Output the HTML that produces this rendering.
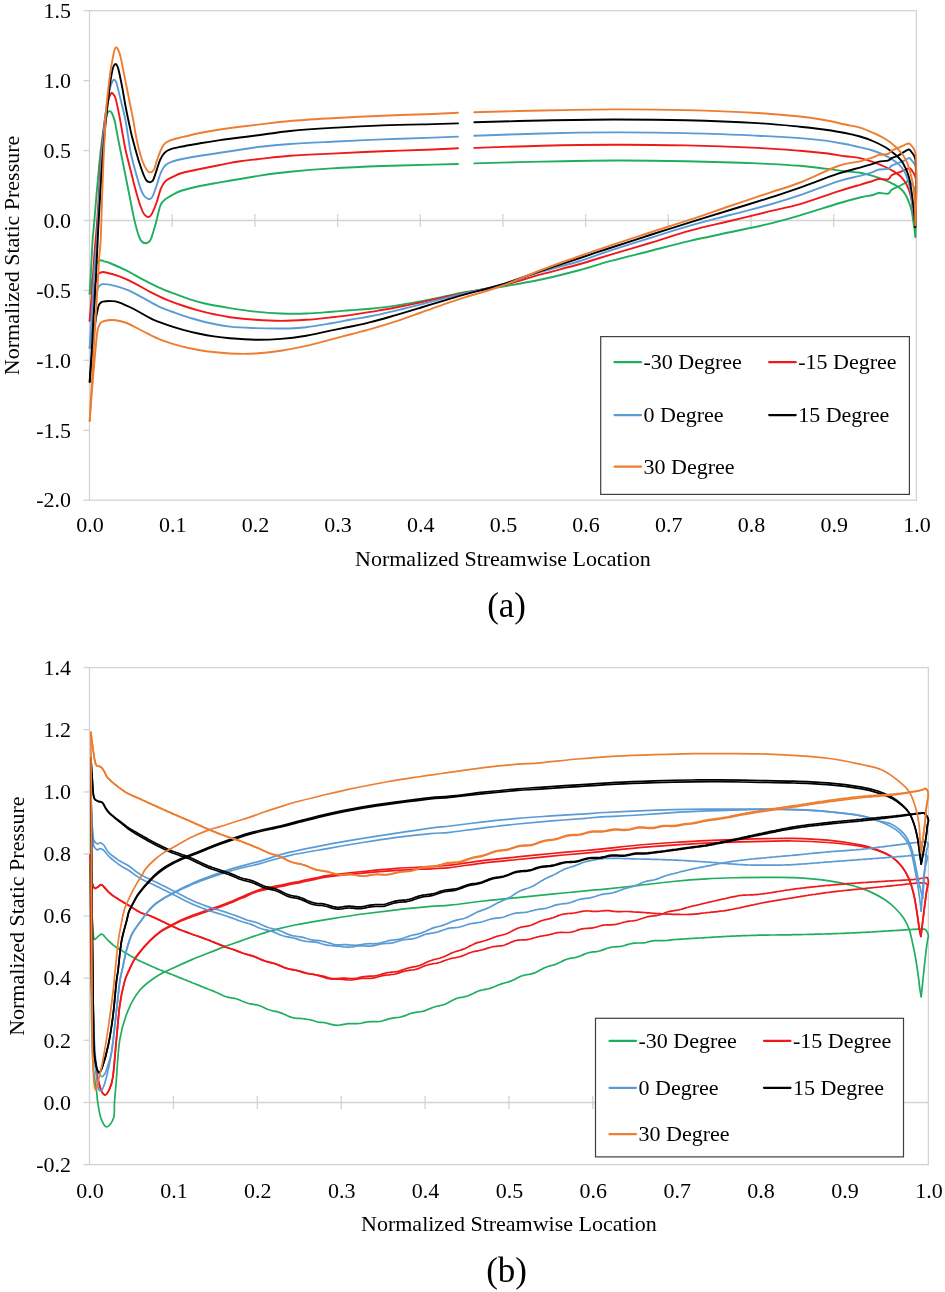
<!DOCTYPE html><html><head><meta charset="utf-8"><style>html,body{margin:0;padding:0;background:#fff;overflow:hidden}svg{display:block;will-change:transform}</style></head><body><svg width="945" height="1292" viewBox="0 0 945 1292" font-family='"Liberation Serif", serif' font-size="22" fill="#000">
<rect width="945" height="1292" fill="#fff"/>
<rect x="89.5" y="10.7" width="826.9" height="489.5" fill="none" stroke="#d3d3d3" stroke-width="1.3"/>
<line x1="83.5" y1="10.7" x2="89.5" y2="10.7" stroke="#d3d3d3" stroke-width="1.3"/>
<text x="71" y="17.9" text-anchor="end">1.5</text>
<line x1="83.5" y1="80.6" x2="89.5" y2="80.6" stroke="#d3d3d3" stroke-width="1.3"/>
<text x="71" y="87.8" text-anchor="end">1.0</text>
<line x1="83.5" y1="150.6" x2="89.5" y2="150.6" stroke="#d3d3d3" stroke-width="1.3"/>
<text x="71" y="157.8" text-anchor="end">0.5</text>
<line x1="83.5" y1="220.5" x2="89.5" y2="220.5" stroke="#d3d3d3" stroke-width="1.3"/>
<text x="71" y="227.7" text-anchor="end">0.0</text>
<line x1="83.5" y1="290.4" x2="89.5" y2="290.4" stroke="#d3d3d3" stroke-width="1.3"/>
<text x="71" y="297.6" text-anchor="end">-0.5</text>
<line x1="83.5" y1="360.3" x2="89.5" y2="360.3" stroke="#d3d3d3" stroke-width="1.3"/>
<text x="71" y="367.5" text-anchor="end">-1.0</text>
<line x1="83.5" y1="430.3" x2="89.5" y2="430.3" stroke="#d3d3d3" stroke-width="1.3"/>
<text x="71" y="437.5" text-anchor="end">-1.5</text>
<line x1="83.5" y1="500.2" x2="89.5" y2="500.2" stroke="#d3d3d3" stroke-width="1.3"/>
<text x="71" y="507.4" text-anchor="end">-2.0</text>
<line x1="89.5" y1="220.5" x2="916.4" y2="220.5" stroke="#d3d3d3" stroke-width="1.3"/>
<line x1="172.2" y1="214" x2="172.2" y2="227" stroke="#d3d3d3" stroke-width="1.3"/>
<line x1="254.9" y1="214" x2="254.9" y2="227" stroke="#d3d3d3" stroke-width="1.3"/>
<line x1="337.6" y1="214" x2="337.6" y2="227" stroke="#d3d3d3" stroke-width="1.3"/>
<line x1="420.3" y1="214" x2="420.3" y2="227" stroke="#d3d3d3" stroke-width="1.3"/>
<line x1="502.9" y1="214" x2="502.9" y2="227" stroke="#d3d3d3" stroke-width="1.3"/>
<line x1="585.6" y1="214" x2="585.6" y2="227" stroke="#d3d3d3" stroke-width="1.3"/>
<line x1="668.3" y1="214" x2="668.3" y2="227" stroke="#d3d3d3" stroke-width="1.3"/>
<line x1="751" y1="214" x2="751" y2="227" stroke="#d3d3d3" stroke-width="1.3"/>
<line x1="833.7" y1="214" x2="833.7" y2="227" stroke="#d3d3d3" stroke-width="1.3"/>
<text x="90" y="531.5" text-anchor="middle">0.0</text>
<text x="172.7" y="531.5" text-anchor="middle">0.1</text>
<text x="255.4" y="531.5" text-anchor="middle">0.2</text>
<text x="338.1" y="531.5" text-anchor="middle">0.3</text>
<text x="420.8" y="531.5" text-anchor="middle">0.4</text>
<text x="503.4" y="531.5" text-anchor="middle">0.5</text>
<text x="586.1" y="531.5" text-anchor="middle">0.6</text>
<text x="668.8" y="531.5" text-anchor="middle">0.7</text>
<text x="751.5" y="531.5" text-anchor="middle">0.8</text>
<text x="834.2" y="531.5" text-anchor="middle">0.9</text>
<text x="916.9" y="531.5" text-anchor="middle">1.0</text>
<text x="502.9" y="566" text-anchor="middle">Normalized Streamwise Location</text>
<text transform="translate(19.2 255.4) rotate(-90)" x="0" y="0" text-anchor="middle">Normalized Static Pressure</text>
<text x="506.6" y="617" text-anchor="middle" font-size="35">(a)</text>
<rect x="89.5" y="667.6" width="838.9" height="497" fill="none" stroke="#d3d3d3" stroke-width="1.3"/>
<line x1="83.5" y1="667.6" x2="89.5" y2="667.6" stroke="#d3d3d3" stroke-width="1.3"/>
<text x="71" y="674.8" text-anchor="end">1.4</text>
<line x1="83.5" y1="729.7" x2="89.5" y2="729.7" stroke="#d3d3d3" stroke-width="1.3"/>
<text x="71" y="736.9" text-anchor="end">1.2</text>
<line x1="83.5" y1="791.9" x2="89.5" y2="791.9" stroke="#d3d3d3" stroke-width="1.3"/>
<text x="71" y="799.1" text-anchor="end">1.0</text>
<line x1="83.5" y1="854" x2="89.5" y2="854" stroke="#d3d3d3" stroke-width="1.3"/>
<text x="71" y="861.2" text-anchor="end">0.8</text>
<line x1="83.5" y1="916.1" x2="89.5" y2="916.1" stroke="#d3d3d3" stroke-width="1.3"/>
<text x="71" y="923.3" text-anchor="end">0.6</text>
<line x1="83.5" y1="978.2" x2="89.5" y2="978.2" stroke="#d3d3d3" stroke-width="1.3"/>
<text x="71" y="985.4" text-anchor="end">0.4</text>
<line x1="83.5" y1="1040.3" x2="89.5" y2="1040.3" stroke="#d3d3d3" stroke-width="1.3"/>
<text x="71" y="1047.5" text-anchor="end">0.2</text>
<line x1="83.5" y1="1102.5" x2="89.5" y2="1102.5" stroke="#d3d3d3" stroke-width="1.3"/>
<text x="71" y="1109.7" text-anchor="end">0.0</text>
<line x1="83.5" y1="1164.6" x2="89.5" y2="1164.6" stroke="#d3d3d3" stroke-width="1.3"/>
<text x="71" y="1171.8" text-anchor="end">-0.2</text>
<line x1="89.5" y1="1102.5" x2="928.4" y2="1102.5" stroke="#d3d3d3" stroke-width="1.3"/>
<line x1="173.4" y1="1096" x2="173.4" y2="1109" stroke="#d3d3d3" stroke-width="1.3"/>
<line x1="257.3" y1="1096" x2="257.3" y2="1109" stroke="#d3d3d3" stroke-width="1.3"/>
<line x1="341.2" y1="1096" x2="341.2" y2="1109" stroke="#d3d3d3" stroke-width="1.3"/>
<line x1="425.1" y1="1096" x2="425.1" y2="1109" stroke="#d3d3d3" stroke-width="1.3"/>
<line x1="508.9" y1="1096" x2="508.9" y2="1109" stroke="#d3d3d3" stroke-width="1.3"/>
<line x1="592.8" y1="1096" x2="592.8" y2="1109" stroke="#d3d3d3" stroke-width="1.3"/>
<line x1="676.7" y1="1096" x2="676.7" y2="1109" stroke="#d3d3d3" stroke-width="1.3"/>
<line x1="760.6" y1="1096" x2="760.6" y2="1109" stroke="#d3d3d3" stroke-width="1.3"/>
<line x1="844.5" y1="1096" x2="844.5" y2="1109" stroke="#d3d3d3" stroke-width="1.3"/>
<text x="90" y="1197.5" text-anchor="middle">0.0</text>
<text x="173.9" y="1197.5" text-anchor="middle">0.1</text>
<text x="257.8" y="1197.5" text-anchor="middle">0.2</text>
<text x="341.7" y="1197.5" text-anchor="middle">0.3</text>
<text x="425.6" y="1197.5" text-anchor="middle">0.4</text>
<text x="509.4" y="1197.5" text-anchor="middle">0.5</text>
<text x="593.3" y="1197.5" text-anchor="middle">0.6</text>
<text x="677.2" y="1197.5" text-anchor="middle">0.7</text>
<text x="761.1" y="1197.5" text-anchor="middle">0.8</text>
<text x="845" y="1197.5" text-anchor="middle">0.9</text>
<text x="928.9" y="1197.5" text-anchor="middle">1.0</text>
<text x="508.9" y="1231" text-anchor="middle">Normalized Streamwise Location</text>
<text transform="translate(23.8 916.1) rotate(-90)" x="0" y="0" text-anchor="middle">Normalized Static Pressure</text>
<text x="506.6" y="1282" text-anchor="middle" font-size="35">(b)</text>
<path d="M89.7 293.7C89.9 289.8 90.5 278.9 91 270C91.5 261.1 92.1 247.7 92.6 240C93.1 232.3 93.4 231.3 94.1 223.8C94.8 216.3 95.6 205.3 96.5 195C97.4 184.7 98.6 171.1 99.5 161.9C100.4 152.7 101.2 146.2 102 140C102.8 133.8 103.7 129.1 104.5 125C105.3 120.9 106 117.7 106.6 115.5C107.2 113.3 107.5 112.7 108 112C108.5 111.3 109 111.1 109.5 111.1C110 111.1 110.5 111.2 111 111.8C111.5 112.4 112.1 113.2 112.7 114.8C113.3 116.4 114.1 118.4 114.8 121.3C115.5 124.2 116.1 128.4 116.8 131.9C117.5 135.4 118.1 138.9 118.8 142.4C119.5 145.9 119.8 147.4 120.9 152.8C122 158.2 123.9 167.7 125.4 175.1C126.9 182.5 128.3 189.9 129.8 197.3C131.3 204.7 132.8 213.2 134.3 219.6C135.8 226 137.4 231.9 138.7 235.6C139.9 239.2 140.6 240.2 141.8 241.5C143 242.8 144.5 243.1 145.7 243.2C146.8 243.3 147.8 242.8 148.7 242C149.6 241.2 150 241.3 151.2 238.3C152.3 235.3 154.1 229.3 155.6 224C157.1 218.7 158.9 209.9 160.1 206.2C161.3 202.4 162 202.7 163 201.5C164 200.3 164.1 200.1 166 198.8C167.9 197.5 171.6 195.2 174.3 193.8C177 192.4 177.7 191.8 182 190.5C186.3 189.2 193.7 187.3 200 186C206.3 184.7 213.3 183.6 220 182.4C226.7 181.2 233.3 180.1 240 179C246.7 177.9 251.7 176.8 260 175.6C268.3 174.4 278.1 173 290 171.8C301.9 170.6 316.2 169.4 331.6 168.4C347 167.4 365.5 166.6 382.4 166C399.3 165.4 420.6 164.9 433.2 164.6C445.8 164.3 453.9 164.1 458 164" fill="none" stroke="#1fae5e" stroke-width="1.9" stroke-linejoin="round" stroke-linecap="round"/>
<path d="M474.3 163.4C485.6 163.1 518.7 162.1 542 161.6C565.3 161.1 589.9 160.6 613.9 160.5C637.9 160.4 661.9 160.7 685.9 161.2C709.9 161.7 738.9 162.6 757.9 163.4C776.9 164.2 788.8 164.9 800 165.8C811.2 166.7 817.9 167.7 825.4 168.6C832.9 169.5 839.2 170.5 845 171.2C850.8 171.9 855.4 171.9 860 172.7C864.6 173.5 868.5 174.6 872.7 175.9C876.9 177.2 881.7 178.8 885.4 180.3C889.1 181.8 892.2 183.3 894.9 184.8C897.5 186.3 899.5 187.6 901.3 189.2C903 190.8 904.1 192.3 905.4 194.5C906.7 196.7 908.1 200 909.1 202.6C910.1 205.2 910.9 207.3 911.6 210.2C912.3 213.1 912.6 216.8 913.1 220.2C913.6 223.5 914.2 227.5 914.6 230.3C915 233.1 915.3 235.7 915.4 236.8" fill="none" stroke="#1fae5e" stroke-width="1.9" stroke-linejoin="round" stroke-linecap="round"/>
<path d="M89.7 293.7C90.1 291.4 91.1 284.3 92 280C92.9 275.7 94.1 271 95 268C95.9 265 96.6 263.3 97.5 262C98.4 260.7 99.5 260.4 100.6 260.3C101.7 260.2 102.3 260.8 104 261.3C105.7 261.8 107.1 261.9 110.9 263.5C114.7 265.1 121.4 268 126.7 270.6C132 273.2 137.3 276.6 142.6 279.4C147.9 282.2 153.2 284.9 158.5 287.3C163.8 289.7 169.2 291.7 174.4 293.7C179.7 295.7 184.7 297.6 190 299.3C195.3 301 199.4 302.3 206.1 303.8C212.8 305.3 221.8 306.8 230 308.1C238.2 309.4 246.9 310.7 255.4 311.6C263.9 312.5 272.3 313.2 280.8 313.5C289.3 313.8 297.7 313.8 306.2 313.5C314.7 313.2 324.3 312.3 331.6 311.8C338.9 311.3 343.5 310.8 350 310.3C356.5 309.8 362.8 309.5 370.4 308.7C378 307.9 387.3 306.9 395.8 305.6C404.3 304.3 412.7 302.7 421.2 301.1C429.7 299.5 439.3 297.5 446.6 296C453.9 294.5 456.1 293.7 465 292.2C473.9 290.7 487.5 289.1 500 287C512.5 284.9 526.7 282.6 540 279.8C553.3 277 568.3 273.1 580 270C591.7 266.9 598.3 264.4 610 261.2C621.7 258 636.7 254.4 650 251C663.3 247.6 676.7 244 690 240.9C703.3 237.8 716.7 235.2 730 232.3C743.3 229.4 758.3 226.4 770 223.6C781.7 220.8 788.6 218.8 800 215.4C811.4 212.1 828.1 206.5 838.1 203.5C848.1 200.5 854.2 198.9 860 197.5C865.8 196.1 869.5 195.8 872.7 195C875.9 194.2 876.5 193.2 879 193C881.5 192.8 885.8 194.2 887.9 193.7C890 193.2 890 191 891.7 189.8C893.4 188.6 896 187.8 898.1 186.7C900.2 185.6 902.7 184.4 904.4 183.5C906.1 182.6 907.1 181 908.3 181C909.5 181 910.3 182.2 911.4 183.5C912.5 184.8 913.9 186.5 914.6 188.6C915.3 190.7 915.6 191.6 915.8 196C916 200.4 916.1 208.2 916 215C915.9 221.8 915.5 233.2 915.4 236.8" fill="none" stroke="#1fae5e" stroke-width="1.9" stroke-linejoin="round" stroke-linecap="round"/>
<path d="M89.7 320.9C90.1 315.8 91.3 300.1 92 290C92.7 279.9 93.4 268.3 94 260C94.6 251.7 95.1 246 95.6 240C96.1 234 96.5 230.5 97 223.8C97.5 217.1 97.9 210.3 98.5 200C99.1 189.7 100 172.7 100.7 161.9C101.5 151.1 102.3 142.3 103 135C103.7 127.7 104.3 122.8 105 118C105.7 113.2 106.3 109.3 107 106C107.7 102.7 108.4 99.9 109 98C109.6 96.1 110 95.4 110.5 94.5C111 93.6 111.2 92.8 111.7 92.8C112.2 92.8 112.8 93.5 113.5 94.5C114.2 95.5 114.8 96.1 115.6 98.5C116.3 100.9 117.2 105.3 118 109.1C118.8 112.9 119.4 115.8 120.4 121.3C121.4 126.8 123.1 137.2 124.1 142.4C125.1 147.7 125.1 148.1 126.2 152.8C127.3 157.5 129.2 164.7 130.7 170.6C132.2 176.5 133.6 182.5 135.2 188.4C136.8 194.3 139 201.9 140.5 206.2C142 210.5 142.8 212.2 144 214C145.2 215.8 146.4 216.5 147.4 216.9C148.4 217.3 149.2 216.8 150 216.2C150.8 215.6 151 215.7 152.1 213.4C153.2 211.2 155 206.9 156.5 202.7C158 198.5 159.5 192 161 188.4C162.5 184.8 163.2 183.3 165.4 181.3C167.6 179.3 171.5 177.6 174.3 176.2C177.1 174.8 177.7 174.2 182 173C186.3 171.8 193.7 170.3 200 169C206.3 167.7 213.3 166.3 220 165C226.7 163.7 233.3 162.3 240 161.3C246.7 160.3 251.7 159.8 260 158.9C268.3 158 278.1 156.7 290 155.8C301.9 154.9 316.2 154.3 331.6 153.6C347 152.8 365.5 152 382.4 151.3C399.3 150.6 420.6 150 433.2 149.5C445.8 149 453.9 148.5 458 148.3" fill="none" stroke="#f01818" stroke-width="1.9" stroke-linejoin="round" stroke-linecap="round"/>
<path d="M474.3 147.9C485.6 147.5 518.7 146.2 542 145.7C565.3 145.2 589.9 144.8 613.9 144.7C637.9 144.6 661.9 144.9 685.9 145.4C709.9 145.9 738.9 147 757.9 147.9C776.9 148.8 788.8 149.9 800 150.8C811.2 151.7 817.9 152.4 825.4 153.3C832.9 154.2 839.2 155.4 845 156.2C850.8 157 855.4 157.1 860 158.1C864.6 159.1 868.5 160.4 872.7 161.9C876.9 163.4 881.7 165.3 885.4 167C889.1 168.7 892.2 170.4 894.9 172.1C897.5 173.8 899.5 175.3 901.3 177.1C903.1 178.9 904.4 180.8 905.7 182.9C907 185 908 187.4 908.9 189.8C909.8 192.2 910.4 194.2 911.1 197.6C911.8 201 912.5 206.4 913.1 210.2C913.7 214 914.2 217.6 914.6 220.2C915 222.8 915.3 224.9 915.4 225.8" fill="none" stroke="#f01818" stroke-width="1.9" stroke-linejoin="round" stroke-linecap="round"/>
<path d="M89.7 320.9C90.1 318.2 91.1 311 92 305C92.9 299 94 290 95 285C96 280 97.1 277.1 98 275C98.9 272.9 99.4 273.1 100.5 272.6C101.6 272.1 101.5 271.6 104.5 272.2C107.5 272.8 113.8 274.3 118.8 276.2C123.8 278.1 129.4 280.6 134.7 283.3C140 286 145.3 289.4 150.6 292.1C155.9 294.8 161.1 297.4 166.4 299.6C171.7 301.8 177 303.7 182.3 305.5C187.6 307.3 192.9 308.9 198.2 310.3C203.5 311.8 208.7 313.1 214 314.2C219.3 315.3 223.1 316.3 230 317.2C236.9 318.1 246.9 319.2 255.4 319.8C263.9 320.4 272.3 320.9 280.8 320.9C289.3 320.9 297.7 320.4 306.2 319.8C314.7 319.2 324.3 318.1 331.6 317.3C338.9 316.5 343.5 316 350 315.1C356.5 314.2 362.8 313.2 370.4 311.9C378 310.6 387.3 309.1 395.8 307.5C404.3 305.9 412.7 304.2 421.2 302.4C429.7 300.6 439.3 298.3 446.6 296.7C453.9 295.1 456.1 294.4 465 292.6C473.9 290.8 487.5 289 500 286C512.5 283 526.7 278.4 540 274.7C553.3 271 568.3 267.3 580 264C591.7 260.7 598.3 258.3 610 254.8C621.7 251.3 636.7 247 650 243C663.3 239 676.7 234.4 690 230.7C703.3 227 716.7 224.2 730 221C743.3 217.8 758.3 214 770 211.2C781.7 208.4 788.6 207.4 800 204.1C811.4 200.8 828.1 194.6 838.1 191.4C848.1 188.2 854.2 186.5 860 184.8C865.8 183.1 869.5 182 872.7 181C875.9 180 876.5 179.3 879 179C881.5 178.7 885.8 180 887.9 179.4C890 178.8 890 176.3 891.7 175.2C893.4 174.1 896 173.5 898.1 172.7C900.2 171.9 902.5 170.9 904.4 170.2C906.3 169.5 908.2 168.2 909.5 168.3C910.8 168.4 911.2 169.7 912.1 170.8C913 172 914 173.6 914.6 175.2C915.2 176.8 915.6 176.2 915.9 180.3C916.1 184.4 916.2 192.4 916.1 200C916 207.6 915.5 221.5 915.4 225.8" fill="none" stroke="#f01818" stroke-width="1.9" stroke-linejoin="round" stroke-linecap="round"/>
<path d="M89.7 348.1C90.1 341.8 91.3 322.2 92 310C92.7 297.8 93.2 286.7 94 275C94.8 263.3 96.2 250.8 97 240C97.8 229.2 97.8 223 98.5 210C99.2 197 100.5 174.4 101.3 161.9C102.1 149.4 102.8 142.8 103.5 135C104.2 127.2 104.8 120.8 105.5 115C106.2 109.2 106.8 104.2 107.5 100C108.2 95.8 108.9 92.5 109.5 90C110.1 87.5 110.6 86.2 111.1 84.7C111.6 83.2 112 81.8 112.5 81C113 80.2 113.6 79.8 114.1 79.8C114.6 79.8 115.2 80.3 115.7 81.3C116.2 82.2 116.5 82.9 117.2 85.5C117.9 88.1 119 93 120 96.9C121 100.8 122 105 122.9 109.1C123.9 113.2 124.7 115.8 125.7 121.3C126.7 126.8 128.2 137.2 129 142.4C129.8 147.7 129.7 148.1 130.7 152.8C131.7 157.5 133.6 164.7 135.2 170.6C136.8 176.5 139 184.2 140.5 188.4C142 192.6 142.7 194 144 195.8C145.3 197.6 147.3 198.7 148.5 199.1C149.7 199.5 150.2 198.9 151 198.3C151.8 197.7 152.1 197.6 153 195.5C153.9 193.4 155.2 189.7 156.5 185.8C157.8 182 159.5 175.8 161 172.4C162.5 169 163.5 167.1 165.4 165.3C167.3 163.5 169.8 162.6 172.6 161.5C175.4 160.4 177.4 159.9 182 159C186.6 158.1 193.7 156.8 200 155.8C206.3 154.8 213.3 153.8 220 152.8C226.7 151.8 233.3 150.8 240 149.8C246.7 148.8 251.7 147.8 260 146.8C268.3 145.8 278.1 144.8 290 144C301.9 143.2 316.2 142.5 331.6 141.7C347 140.9 365.5 140.1 382.4 139.4C399.3 138.7 420.6 138.1 433.2 137.6C445.8 137.1 453.9 136.8 458 136.6" fill="none" stroke="#5b9bd5" stroke-width="1.9" stroke-linejoin="round" stroke-linecap="round"/>
<path d="M474.3 135.7C485.6 135.3 518.7 134.1 542 133.5C565.3 132.9 589.9 132.5 613.9 132.4C637.9 132.3 661.9 132.6 685.9 133.1C709.9 133.6 738.9 134.9 757.9 135.7C776.9 136.5 788.8 137.3 800 138.1C811.2 138.9 817.9 139.6 825.4 140.6C832.9 141.6 839.2 142.9 845 144C850.8 145.1 855.4 146.2 860 147.3C864.6 148.4 868.5 149.1 872.7 150.5C876.9 151.9 881.7 153.8 885.4 155.6C889.1 157.4 892.2 159.4 894.9 161.3C897.5 163.2 899.5 164.9 901.3 167C903.1 169.1 904.4 171.2 905.7 174C907 176.8 908 180.3 908.9 183.5C909.8 186.7 910.2 189.4 910.8 193C911.4 196.6 911.9 201 912.5 205C913.1 209 913.8 213.5 914.3 217C914.8 220.5 915.2 224.5 915.4 226" fill="none" stroke="#5b9bd5" stroke-width="1.9" stroke-linejoin="round" stroke-linecap="round"/>
<path d="M89.7 348.1C90.1 344.2 91.1 333 92 325C92.9 317 94 306.2 95 300C96 293.8 97.1 290.5 98 288C98.9 285.5 99.7 285.6 100.5 285C101.3 284.4 101.2 284.1 102.9 284.1C104.6 284.1 106.9 284 110.9 284.9C114.9 285.8 121.4 287.6 126.7 289.7C132 291.8 137.3 294.8 142.6 297.6C147.9 300.4 153.2 303.8 158.5 306.3C163.8 308.8 169.2 310.7 174.4 312.6C179.7 314.5 184.7 316.2 190 317.8C195.3 319.4 199.4 320.7 206.1 322.2C212.8 323.7 221.8 325.6 230 326.6C238.2 327.6 246.9 327.8 255.4 328.1C263.9 328.4 272.3 328.6 280.8 328.5C289.3 328.4 297.7 328.1 306.2 327.2C314.7 326.3 324.3 324.5 331.6 323.3C338.9 322.1 343.5 321 350 319.8C356.5 318.6 362.8 317.8 370.4 316.3C378 314.8 387.3 312.6 395.8 310.6C404.3 308.6 412.7 306.4 421.2 304.3C429.7 302.2 439.3 299.8 446.6 297.9C453.9 296 456.1 295.2 465 293.1C473.9 291 487.5 289 500 285.5C512.5 282 526.7 276.3 540 272.2C553.3 268.1 568.3 264.6 580 261C591.7 257.4 598.3 254.5 610 250.7C621.7 246.9 636.7 242.2 650 238C663.3 233.8 676.7 229.4 690 225.6C703.3 221.8 716.7 218.5 730 215C743.3 211.5 758.3 207.8 770 204.5C781.7 201.2 788.6 199.1 800 195.2C811.4 191.3 828.1 184.5 838.1 181.3C848.1 178.1 854.2 177.4 860 175.9C865.8 174.4 869.5 173.2 872.7 172.1C875.9 171 876.5 170 879 169.5C881.5 169 885.8 169.5 887.9 168.9C890 168.3 890 166.6 891.7 165.7C893.4 164.8 896 164 898.1 163.2C900.2 162.3 902.6 161.4 904.4 160.6C906.1 159.8 907.5 158.3 908.6 158.1C909.7 157.9 909.8 158.3 910.8 159.4C911.8 160.5 913.8 162.5 914.6 164.4C915.5 166.3 915.6 165.7 915.9 170.8C916.1 175.9 916.2 185.8 916.1 195C916 204.2 915.5 220.8 915.4 226" fill="none" stroke="#5b9bd5" stroke-width="1.9" stroke-linejoin="round" stroke-linecap="round"/>
<path d="M89.7 381.9C90.1 375.8 91.3 357 92 345C92.7 333 93.3 321.7 94 310C94.7 298.3 95.4 285.8 96 275C96.6 264.2 97.1 253.5 97.5 245C97.9 236.5 98 233 98.5 223.8C99 214.6 99.9 200.3 100.5 190C101.1 179.7 101.6 171.1 102.3 161.9C103 152.7 103.8 142.8 104.5 135C105.2 127.2 105.8 121.3 106.5 115C107.2 108.7 107.9 102 108.5 97C109.1 92 109.3 88.8 109.9 84.7C110.5 80.6 111.3 75.5 111.9 72.5C112.5 69.5 112.9 67.9 113.5 66.5C114.1 65.1 114.9 64 115.6 64C116.3 64 116.9 65.1 117.5 66.5C118.1 67.9 118.4 68.8 119.2 72.5C120 76.2 121.5 83.4 122.5 88.8C123.5 94.2 124.3 99.6 125.3 105C126.3 110.4 127.5 116.3 128.6 121.3C129.7 126.3 130.5 130.5 131.6 135C132.7 139.5 133.9 143.7 135.2 148.4C136.5 153.2 138.1 158.9 139.6 163.5C141.1 168.1 142.9 173.2 144.1 176C145.2 178.8 145.6 179.5 146.5 180.5C147.4 181.5 148.6 182 149.4 182.2C150.2 182.4 150.8 181.9 151.5 181.5C152.2 181.1 152.6 181.3 153.4 179.5C154.2 177.7 155.4 173.9 156.5 170.6C157.6 167.3 158.8 162.9 160.1 159.9C161.4 156.9 162.7 154.6 164.5 152.8C166.3 151 167.9 150.2 170.8 149.2C173.7 148.1 177.1 147.5 182 146.5C186.9 145.5 193.7 144.4 200 143.3C206.3 142.2 213.3 141.1 220 140.1C226.7 139.1 233.3 138.3 240 137.5C246.7 136.7 251.7 136.1 260 135C268.3 133.9 278.1 132.2 290 131C301.9 129.8 316.2 128.8 331.6 127.9C347 127 365.5 126 382.4 125.4C399.3 124.8 420.6 124.4 433.2 124.1C445.8 123.8 453.9 123.5 458 123.4" fill="none" stroke="#000000" stroke-width="1.9" stroke-linejoin="round" stroke-linecap="round"/>
<path d="M474.3 122.3C485.6 122 518.7 121 542 120.5C565.3 120 589.9 119.5 613.9 119.5C637.9 119.5 661.9 119.6 685.9 120.2C709.9 120.8 738.9 122 757.9 123.1C776.9 124.2 788.8 125.6 800 126.7C811.2 127.8 817.9 128.8 825.4 129.8C832.9 130.9 839.2 131.9 845 133C850.8 134.1 855.4 135.2 860 136.5C864.6 137.8 868.5 139.2 872.7 141C876.9 142.8 881.7 145.1 885.4 147.3C889.1 149.5 892.2 152.1 894.9 154.3C897.5 156.5 899.5 158.3 901.3 160.6C903.1 162.9 904.4 165.6 905.7 168.3C907 171.1 908 174 908.9 177.1C909.8 180.2 910.2 182.9 910.8 186.7C911.4 190.5 912.1 195.4 912.7 200C913.3 204.6 913.9 209.8 914.3 214.3C914.7 218.8 915.1 224.9 915.3 227" fill="none" stroke="#000000" stroke-width="1.9" stroke-linejoin="round" stroke-linecap="round"/>
<path d="M89.7 381.9C90.1 377.4 91.1 364.5 92 355C92.9 345.5 94 333 95 325C96 317 97.3 310.8 98.2 307.1C99.1 303.4 99.7 303.9 100.5 303C101.3 302.1 101.2 301.9 102.9 301.6C104.6 301.3 108.2 301 110.9 301.1C113.6 301.2 114.8 301 118.8 302.4C122.8 303.8 129.4 306.9 134.7 309.5C140 312.1 145.3 315.8 150.6 318.3C155.9 320.8 161.1 322.7 166.4 324.6C171.7 326.5 177 328.1 182.3 329.6C187.6 331.1 192.9 332.4 198.2 333.5C203.5 334.6 208.7 335.6 214 336.4C219.3 337.2 223.1 337.7 230 338.3C236.9 338.9 246.9 339.7 255.4 339.8C263.9 339.9 272.3 339.6 280.8 338.9C289.3 338.2 297.7 337.1 306.2 335.7C314.7 334.3 324.3 331.9 331.6 330.4C338.9 328.9 343.5 328.2 350 326.8C356.5 325.4 362.8 324.1 370.4 322.1C378 320.2 387.3 317.5 395.8 315.1C404.3 312.7 412.7 310.1 421.2 307.5C429.7 304.9 439.3 302 446.6 299.8C453.9 297.6 456.1 296.9 465 294.4C473.9 291.9 487.5 288.9 500 285C512.5 281.1 526.7 275.8 540 271.3C553.3 266.8 568.3 261.9 580 258C591.7 254.1 598.3 251.8 610 248C621.7 244.2 636.7 239.3 650 235C663.3 230.7 676.7 226.5 690 222.3C703.3 218.1 716.7 214.1 730 210C743.3 205.9 758.3 201.4 770 197.7C781.7 194 788.6 191.6 800 187.6C811.4 183.6 828.1 177 838.1 173.7C848.1 170.4 854.2 169.2 860 167.6C865.8 165.9 869.5 164.8 872.7 163.8C875.9 162.8 876.5 162.1 879 161.6C881.5 161.1 885.8 161.2 887.9 160.6C890 160 890 158.9 891.7 158.1C893.4 157.3 896 156.7 898.1 155.6C900.2 154.5 902.6 152.7 904.4 151.7C906.1 150.7 907.5 149.6 908.6 149.5C909.7 149.4 909.8 149.9 910.8 151.1C911.8 152.3 913.8 154.6 914.6 156.8C915.5 159 915.6 158.9 915.9 164.4C916.2 169.9 916.3 179.6 916.2 190C916.1 200.4 915.4 220.8 915.3 227" fill="none" stroke="#000000" stroke-width="1.9" stroke-linejoin="round" stroke-linecap="round"/>
<path d="M89.7 420.9C90.1 414.1 91.2 394.3 92 380C92.8 365.7 93.7 349.2 94.5 335C95.3 320.8 96.2 307.5 97 295C97.8 282.5 98.4 269.2 99 260C99.6 250.8 100.2 250 100.7 240C101.2 230 101.5 213.3 102 200C102.5 186.7 103.1 170 103.5 160C103.9 150 104.2 146.4 104.5 140C104.8 133.6 105.1 127.1 105.4 121.3C105.8 115.5 106.1 110.4 106.6 105C107.1 99.6 107.7 94.2 108.3 88.8C108.9 83.4 109.5 77.9 110.3 72.5C111.1 67.1 112.4 60 113.1 56.3C113.8 52.5 114 51.5 114.5 50C115 48.5 115.6 47.3 116.2 47.2C116.8 47.1 117.3 48 118 49.5C118.7 51 119.5 52.5 120.4 56.3C121.4 60.1 122.6 67.1 123.7 72.5C124.8 77.9 125.9 83.4 127 88.8C128.1 94.2 129.1 99.6 130.2 105C131.3 110.4 132.6 116.5 133.5 121.3C134.4 126.1 134.7 129.5 135.6 134C136.5 138.5 137.5 143.8 138.7 148.4C139.9 153 141.4 158.1 142.7 161.7C144 165.2 145.5 167.9 146.7 169.7C147.9 171.5 148.9 172.4 150.1 172.4C151.3 172.4 152.8 171.5 153.9 169.7C155 167.9 155.5 164.7 156.5 161.7C157.5 158.7 158.9 154.7 160.1 151.9C161.3 149.1 162.1 146.7 163.6 144.8C165.1 143 165.9 142.1 169 140.8C172.1 139.5 176.8 138.5 182 137.2C187.2 135.9 193.7 134.3 200 133C206.3 131.7 213.3 130.5 220 129.5C226.7 128.5 233.3 127.6 240 126.8C246.7 126 251.7 125.4 260 124.4C268.3 123.4 278.1 122 290 121C301.9 120 316.2 119.2 331.6 118.3C347 117.4 365.5 116.4 382.4 115.7C399.3 115 420.6 114.5 433.2 114C445.8 113.5 453.9 112.9 458 112.7" fill="none" stroke="#ed7d31" stroke-width="1.9" stroke-linejoin="round" stroke-linecap="round"/>
<path d="M474.3 112.3C485.6 112 518.7 111 542 110.5C565.3 110 589.9 109.5 613.9 109.4C637.9 109.3 661.9 109.5 685.9 110.1C709.9 110.7 738.9 111.9 757.9 113C776.9 114.1 788.8 115.3 800 116.5C811.2 117.7 817.9 119 825.4 120.3C832.9 121.6 839.2 123.3 845 124.5C850.8 125.7 855.4 126.2 860 127.6C864.6 129 868.5 130.8 872.7 132.7C876.9 134.6 881.6 136.7 885.4 139C889.2 141.3 893 144.4 895.6 146.7C898.2 149 899.6 150.9 901.3 153C903 155.1 904.4 157 905.7 159.4C907 161.8 908 164.7 908.9 167.6C909.8 170.5 910.7 173.9 911.4 177.1C912.1 180.3 912.8 182.9 913.3 186.7C913.8 190.5 914.3 195.4 914.6 200C914.9 204.6 915.1 209.8 915.2 214C915.3 218.2 915.4 223.4 915.4 225.3" fill="none" stroke="#ed7d31" stroke-width="1.9" stroke-linejoin="round" stroke-linecap="round"/>
<path d="M89.7 420.9C90.1 415.8 91.1 401 92 390C92.9 379 94.1 364.8 95 355C95.9 345.2 96.7 336 97.4 331C98.2 326 98.8 326.5 99.5 325C100.2 323.5 99.9 323 101.3 322.2C102.7 321.4 105.3 320.5 107.7 320.2C110.1 319.9 112.4 319.7 115.6 320.2C118.8 320.7 122.2 321.2 126.7 323C131.2 324.8 137.3 328.4 142.6 331C147.9 333.6 153.2 336.7 158.5 338.9C163.8 341.1 169.2 342.8 174.4 344.4C179.7 346 184.7 347.1 190 348.3C195.3 349.5 199.4 350.4 206.1 351.3C212.8 352.2 221.8 353.1 230 353.5C238.2 353.9 246.9 354 255.4 353.5C263.9 353 272.3 352 280.8 350.7C289.3 349.4 297.7 347.8 306.2 345.9C314.7 344 324.3 341.2 331.6 339.3C338.9 337.4 343.5 336.2 350 334.5C356.5 332.8 362.8 331.4 370.4 329.2C378 327 387.3 324.2 395.8 321.4C404.3 318.6 412.7 315.5 421.2 312.5C429.7 309.5 439.3 305.8 446.6 303.3C453.9 300.8 456.1 300.1 465 297.3C473.9 294.5 487.5 291 500 286.5C512.5 282 526.7 275.6 540 270.5C553.3 265.4 568.3 260.1 580 256C591.7 251.8 598.3 249.5 610 245.6C621.7 241.7 636.7 236.8 650 232.5C663.3 228.2 676.7 224.1 690 219.7C703.3 215.3 716.7 210.5 730 206C743.3 201.5 758.3 196.5 770 192.6C781.7 188.7 788.6 186.9 800 182.5C811.4 178.1 828.1 169.5 838.1 166C848.1 162.5 854.2 162.7 860 161.3C865.8 159.9 869.5 158.6 872.7 157.5C875.9 156.4 876.5 155.5 879 154.9C881.5 154.3 885.8 154.7 887.9 154C890 153.3 890 151.5 891.7 150.5C893.4 149.5 896 148.8 898.1 147.9C900.2 147 902.6 145.8 904.4 145.1C906.1 144.4 907.5 143.6 908.6 143.5C909.7 143.4 909.9 143.9 910.8 144.8C911.7 145.8 913.2 147.6 914 149.2C914.8 150.8 915.2 151.8 915.6 154.3C916 156.8 916.1 156.8 916.2 164.4C916.3 172 916.3 189.8 916.2 200C916.1 210.2 915.5 221.1 915.4 225.3" fill="none" stroke="#ed7d31" stroke-width="1.9" stroke-linejoin="round" stroke-linecap="round"/>
<path d="M90 865C90.1 879.2 90.5 922.5 90.8 950C91.1 977.5 91.3 1010 91.8 1030C92.2 1050 92.7 1060.1 93.5 1070C94.3 1079.9 95.7 1084.1 96.4 1089.5C97.1 1094.9 97 1097.4 97.7 1102.2C98.5 1107 99.4 1114 100.9 1118.1C102.4 1122.2 104.6 1127 106.7 1127C108.8 1127 112.3 1122.2 113.6 1118.1C114.9 1114 114.1 1108 114.5 1102.2C114.9 1096.4 115.2 1093.6 116.1 1083.2C117 1072.8 117.8 1051.8 119.8 1039.7C121.8 1027.6 124.6 1018.9 128 1010.6C131.4 1002.3 135.2 995.7 140 990C144.8 984.3 151.2 979.9 156.9 976.2C162.6 972.5 168.2 970.4 173.9 967.7C179.6 965 185.2 962.5 190.8 960.1C196.4 957.7 202 955.5 207.7 953.3C213.3 951 219 948.7 224.7 946.6C230.3 944.5 236 942.6 241.6 940.6C247.2 938.6 252.8 936.5 258.5 934.7C264.1 932.9 269.4 931.2 275.5 929.6C281.6 928 286.1 926.8 295 925C303.9 923.2 317.6 920.9 328.9 919.1C340.2 917.3 351.4 915.5 362.7 914C374 912.5 385.3 911.1 396.6 909.8C407.9 908.5 421.6 907.2 430.5 906.4C439.4 905.6 441.1 906.1 450 905.2C458.9 904.3 472.6 902.3 483.9 901C495.2 899.7 506.4 898.7 517.7 897.6C529 896.5 540.3 895.3 551.6 894.2C562.9 893.1 576.6 891.6 585.5 890.8C594.4 889.9 596.1 890 605 889.1C613.9 888.2 627.6 886.7 638.9 885.4C650.2 884.1 661.4 882.6 672.7 881.5C684 880.4 695.3 879.5 706.6 878.9C717.9 878.2 730.8 877.9 740.5 877.6C750.2 877.4 756.1 877.4 765 877.4C773.9 877.4 783.4 877.1 793.9 877.6C804.4 878.1 817.8 879.2 827.7 880.6C837.6 882 846.1 883.9 853.1 885.7C860.1 887.5 864.6 889.2 870 891.6C875.4 894 881 897.2 885.3 900C889.5 902.8 892.4 905.4 895.5 908.5C898.6 911.6 901.6 915.2 903.9 918.6C906.1 922 907.6 924.8 909 928.8C910.4 932.8 911.3 937.2 912.4 942.3C913.5 947.4 914.8 953.6 915.8 959.3C916.8 964.9 917.6 971.1 918.3 976.2C919 981.3 919.5 986.6 920 990C920.5 993.4 921 995.5 921.2 996.6" fill="none" stroke="#1fae5e" stroke-width="1.7" stroke-linejoin="round" stroke-linecap="round"/>
<path d="M90 865L90 865.8L90.1 866.8L90.1 867.9L90.1 869.1L90.2 870.3L90.2 871.7L90.3 873.2L90.3 874.7L90.4 876.3L90.4 877.9L90.5 879.6L90.6 881.4L90.6 883.1L90.7 884.9L90.8 886.7L90.8 888.5L90.9 890.3L91 892.1L91 893.9L91.1 895.6L91.2 897.3L91.2 899L91.3 900.6L91.4 902.1L91.4 903.6L91.5 905L91.6 906.8L91.7 908.5L91.8 910.3L91.9 912L92 913.8L92.1 915.5L92.2 917.3L92.3 918.9L92.4 920.6L92.5 922.2L92.6 923.8L92.7 925.3L92.8 926.8L92.9 928.2L93 929.5L93.1 930.8L93.2 932L93.2 933.1L93.3 934.1L93.4 935L93.8 938.6L94 939.5L94.5 939.5L95.8 938.7L97.5 937L98.8 935.8L100.3 934.6L101.7 934L103.4 935.1L105 937L106.1 938.2L107.2 939.5L108.8 941.1L109.8 942L110.8 942.9L112 944L113.3 945.1L114.9 946.2L116.7 947.5L117.8 948.2L119 949L120.3 949.8L121.7 950.6L123.2 951.5L124.7 952.4L126.2 953.3L127.6 954.1L129 954.9L130.3 955.7L131.5 956.4L132.6 957L134.5 958.1L135.7 958.8L136.8 959.4L138 960.1L140 961L141.1 961.5L142.3 962.1L143.6 962.7L144.9 963.3L146.4 964L147.9 964.6L149.4 965.3L150.9 966L152.4 966.7L154 967.3L155.5 968L156.9 968.6L158.3 969.2L159.7 969.8L161.1 970.3L162.6 970.9L164 971.5L165.4 972L166.8 972.5L168.2 973.1L169.7 973.6L171.1 974.2L172.5 974.7L173.9 975.3L175.3 975.9L176.7 976.4L178.1 977L179.5 977.6L180.9 978.1L182.4 978.7L183.8 979.3L185.2 979.8L186.6 980.4L188 981L189.4 981.5L190.8 982.1L192.2 982.7L193.6 983.2L195 983.8L196.5 984.4L197.9 984.9L199.3 985.5L200.7 986.1L202.1 986.7L203.5 987.3L204.9 987.9L206.3 988.4L207.7 989L209.1 989.5L210.4 990L211.7 990.5L212.8 990.9L214 991.4L215.3 992L216.6 992.6L218.2 993.3L219.9 994.1L221.8 995L224.1 996L225.2 996.5L226.4 996.8L227.6 997.1L228.9 997.4L230.2 997.6L231.6 997.9L233.1 998.1L234.5 998.4L236 998.8L237.6 999.2L239.1 999.8L240.7 1000.5L242.3 1001.2L243.9 1001.8L245.5 1002.5L247.2 1003L248.8 1003.5L250.4 1003.8L252 1004.1L253.6 1004.3L255.1 1004.6L256.7 1004.9L258.2 1005.3L259.7 1005.8L261.1 1006.3L262.7 1007L264.2 1007.7L265.8 1008.5L267.4 1009.2L269 1009.8L270.6 1010.3L272.2 1010.7L273.8 1011.1L275.4 1011.4L277 1011.7L278.5 1012.1L280.1 1012.6L281.6 1013.1L283.1 1013.7L284.6 1014.4L286 1015.1L287.4 1015.8L288.8 1016.4L290.2 1016.9L291.4 1017.3L292.7 1017.6L293.9 1017.9L295 1018.1L297.2 1018.3L299.2 1018.4L301.1 1018.5L302.8 1018.7L304.3 1018.8L305.7 1019.1L307.1 1019.3L308.4 1019.5L309.6 1019.7L310.7 1020L311.9 1020.2L314 1020.8L315.4 1021.3L316.7 1021.7L318.2 1022.1L320.4 1022.3L321.6 1022.4L323 1022.5L324.4 1022.7L326 1023L327.6 1023.4L329.3 1023.9L331 1024.3L332.7 1024.7L334.3 1025.1L336 1025.2L337.5 1025.3L339 1025.2L340.7 1025L342.2 1024.7L343.8 1024.4L345.3 1024.1L346.8 1023.9L348.2 1023.7L349.7 1023.7L351.2 1023.6L352.7 1023.7L354.3 1023.7L355.8 1023.7L357.3 1023.7L358.8 1023.5L360.3 1023.3L361.9 1023L363.4 1022.6L365 1022.3L366.5 1022L368.1 1021.8L369.7 1021.7L371.2 1021.6L372.7 1021.6L374.3 1021.7L375.8 1021.7L377.3 1021.7L378.9 1021.5L380.4 1021.3L381.9 1021L383.5 1020.5L385 1020.1L386.6 1019.6L388.1 1019.1L389.6 1018.7L391.2 1018.4L392.7 1018.1L394.3 1017.9L395.8 1017.7L397.4 1017.5L398.9 1017.3L400.5 1017L402 1016.6L403.6 1016.1L405.1 1015.6L406.6 1015L408.2 1014.4L409.7 1013.8L411.3 1013.3L412.8 1012.9L414.3 1012.6L415.9 1012.3L417.4 1012.1L418.9 1012L420.5 1011.7L422 1011.5L423.5 1011.1L425.1 1010.6L426.6 1010L428.2 1009.4L429.7 1008.8L431.3 1008.1L432.8 1007.5L434.3 1007L435.9 1006.5L437.4 1006.2L438.9 1005.8L440.4 1005.5L441.9 1005.2L443.4 1004.7L444.8 1004.2L446.3 1003.6L447.8 1002.9L449.2 1002.1L450.7 1001.3L452.1 1000.5L453.6 999.8L455 999.1L456.6 998.5L458.1 998L459.7 997.7L461.3 997.3L462.8 997.1L464.3 996.8L465.9 996.4L467.4 996L468.8 995.5L470.3 994.8L471.9 994.1L473.4 993.4L474.8 992.6L476.3 992L477.7 991.3L479.2 990.8L480.7 990.4L482.3 990L483.9 989.7L485.3 989.4L486.8 989.2L488.3 988.8L489.8 988.4L491.4 987.9L492.9 987.3L494.5 986.7L496.1 986L497.7 985.3L499.3 984.7L500.8 984.1L502.2 983.6L503.6 983.2L505 982.8L506.4 982.5L507.8 982.1L509.2 981.6L510.7 981.1L512.1 980.5L513.5 979.9L514.9 979.2L516.3 978.4L517.7 977.7L519.2 977L520.8 976.3L522.3 975.8L523.9 975.3L525.4 975L527 974.7L528.5 974.5L530.1 974.2L531.6 973.9L533.2 973.4L534.7 972.9L536.1 972.2L537.5 971.5L538.9 970.7L540.3 969.9L541.7 969.2L543.2 968.4L544.6 967.8L546 967.2L547.4 966.7L548.8 966.3L550.2 965.9L551.6 965.5L553.1 965.1L554.7 964.6L556.2 964L557.7 963.4L559.3 962.6L560.8 961.9L562.3 961.1L563.9 960.4L565.4 959.8L567 959.2L568.5 958.8L570 958.4L571.6 958.1L573.1 957.9L574.6 957.6L576.1 957.3L577.6 956.9L579.1 956.4L580.7 955.8L582.3 955.1L583.9 954.4L585.5 953.8L586.9 953.3L588.4 952.8L589.9 952.4L591.4 952.2L592.9 951.9L594.5 951.8L596 951.6L597.6 951.3L599.1 951L600.6 950.6L602.1 950.1L603.6 949.6L605 949.1L606.6 948.5L608.2 948L609.8 947.6L611.3 947.2L612.9 947L614.4 946.9L615.9 946.8L617.4 946.7L618.9 946.6L620.4 946.5L621.9 946.2L623.4 945.8L625 945.4L626.5 944.9L628.1 944.4L629.6 944L631.2 943.6L632.7 943.3L634.3 943.1L635.8 943.1L637.4 943L638.9 943L640.4 943L642 942.9L643.5 942.8L645.1 942.6L646.6 942.3L648.1 941.9L649.7 941.5L651.2 941.2L652.7 940.9L654.3 940.6L655.8 940.5L657.3 940.6L658.9 940.6L660.4 940.7L661.9 940.7L663.5 940.7L665 940.6L666.5 940.5L668.1 940.3L669.6 940.1L671.2 939.9L672.7 939.7L674.2 939.6L675.8 939.5L677.3 939.4L678.9 939.3L680.4 939.2L682 939.1L683.5 939L685.1 938.9L686.6 938.8L688.2 938.7L689.7 938.6L691.2 938.5L692.8 938.4L694.3 938.3L695.9 938.2L697.4 938.1L698.9 938L700.5 938L702 937.9L703.5 937.8L705.1 937.7L706.6 937.6L708.1 937.5L709.7 937.4L711.2 937.3L712.7 937.2L714.3 937.1L715.8 937L717.3 936.9L718.9 936.9L720.4 936.8L722 936.7L723.5 936.6L725 936.5L726.6 936.4L728.1 936.4L729.6 936.3L731.1 936.2L732.6 936.1L734.1 936.1L735.7 936L737.3 935.9L738.9 935.9L740.5 935.8L741.9 935.7L743.2 935.7L744.5 935.6L745.8 935.6L747.2 935.6L748.5 935.5L749.9 935.5L751.3 935.4L752.9 935.4L754.5 935.3L756.2 935.3L758 935.2L760 935.2L761.2 935.2L762.5 935.2L763.9 935.1L765.3 935.1L766.7 935.1L768.2 935.1L769.7 935L771.3 935L772.8 935L774.4 935L776.1 935L777.7 934.9L779.3 934.9L781 934.9L782.6 934.9L784.3 934.9L785.9 934.8L787.5 934.8L789.2 934.8L790.8 934.8L792.3 934.7L793.9 934.7L795.4 934.7L797 934.6L798.5 934.6L800.1 934.6L801.6 934.6L803.1 934.5L804.7 934.5L806.2 934.5L807.7 934.4L809.3 934.4L810.8 934.4L812.3 934.3L813.9 934.3L815.4 934.2L816.9 934.2L818.5 934.2L820 934.1L821.5 934.1L823.1 934L824.6 934L826.2 933.9L827.7 933.9L829.2 933.8L830.8 933.8L832.3 933.7L833.9 933.7L835.4 933.6L836.9 933.6L838.5 933.5L840 933.5L841.6 933.4L843.1 933.3L844.6 933.3L846.2 933.2L847.7 933.1L849.3 933.1L850.8 933L852.4 932.9L853.9 932.9L855.4 932.8L857 932.7L858.5 932.7L860.1 932.6L861.6 932.5L863.2 932.4L864.7 932.3L866.3 932.3L867.9 932.2L869.5 932.1L871.1 932L872.7 931.9L874.3 931.8L875.9 931.7L877.5 931.6L879.1 931.5L880.7 931.4L882.3 931.3L883.9 931.2L885.4 931.1L886.9 931L888.4 930.9L889.9 930.8L891.4 930.7L892.8 930.7L894.2 930.6L895.5 930.5L897.3 930.4L899.1 930.3L900.9 930.2L902.7 930.1L904.5 929.9L906.2 929.8L907.9 929.7L909.5 929.6L911.1 929.5L912.6 929.4L914.1 929.4L915.4 929.3L916.7 929.2L917.9 929.2L919 929.1L920 929.1L923.3 929L924.6 929.1L925.5 929.8L926.5 930.8L927.3 932.2L927.9 933.8L928.3 935.3L928.3 936.8L927.9 938.3L927.4 940.9L927.3 941.9L927.1 942.9L927 943.9L926.8 944.9L926.7 946.1L926.5 947.5L926.3 949.1L926 951L925.8 953.2L925.5 955.8L925.4 956.9L925.2 958.1L925.1 959.4L925 960.8L924.8 962.3L924.6 963.9L924.4 965.6L924.3 967.2L924.1 969L923.9 970.8L923.7 972.6L923.5 974.4L923.3 976.2L923.1 978L922.9 979.8L922.8 981.6L922.6 983.4L922.4 985.1L922.2 986.7L922.1 988.3L921.9 989.8L921.8 991.2L921.6 992.5L921.5 993.7L921.4 994.8L921.3 995.8L921.2 996.6" fill="none" stroke="#1fae5e" stroke-width="1.7" stroke-linejoin="round" stroke-linecap="round"/>
<path d="M90.4 855C90.5 870.8 90.9 922.5 91.2 950C91.5 977.5 91.8 1000.8 92.5 1020C93.2 1039.2 94.2 1053.8 95.5 1065C96.8 1076.2 98.5 1082 100 1087C101.5 1092 103.2 1094.4 104.7 1094.9C106.2 1095.4 107.6 1093 109 1090C110.4 1087 111.7 1085.2 112.9 1076.8C114.1 1068.4 115.2 1051.7 116.4 1039.7C117.6 1027.7 118.5 1014.5 119.8 1004.8C121.1 995.1 123 987.4 124.5 981.6C126 975.8 127.5 973.6 129.1 970C130.7 966.4 132.2 963.1 134 960C135.8 956.9 137.3 954.9 140 951.6C142.7 948.3 146.7 943.7 150 940.4C153.3 937.1 156.7 934 160 931.6C163.3 929.2 166.7 927.7 170 925.8C173.3 923.9 176.5 922 180 920.4C183.5 918.8 186.2 917.7 190.8 916C195.4 914.3 202 912 207.7 910C213.3 908 219 906.2 224.7 904C230.3 901.8 236 899.3 241.6 897C247.2 894.7 251.3 892.1 258.5 890C265.7 887.9 278.1 885.8 285 884.3C291.9 882.8 295 882.3 300 881.3C305 880.3 310.2 879.1 315 878.1C319.8 877.1 320.9 876.4 328.9 875.3C336.8 874.2 351.4 872.6 362.7 871.5C374 870.4 385.3 869.2 396.6 868.4C407.9 867.6 421.6 867 430.5 866.5C439.4 866 441.1 866.2 450 865.2C458.9 864.2 472.6 861.7 483.9 860.3C495.2 858.9 506.4 858 517.7 856.9C529 855.8 540.3 854.6 551.6 853.5C562.9 852.4 576.6 851.3 585.5 850.5C594.4 849.7 596.1 849.5 605 848.6C613.9 847.7 627.6 846 638.9 845C650.2 844 661.4 843.2 672.7 842.5C684 841.8 695.3 841.1 706.6 840.6C717.9 840.1 730.8 839.6 740.5 839.3C750.2 839 756.1 838.9 765 838.7C773.9 838.6 783.4 838.1 793.9 838.4C804.4 838.6 816.4 839.1 827.7 840.2C839 841.3 853.1 843.4 861.6 845.1C870.1 846.8 873.4 848.2 878.5 850.2C883.6 852.2 888.1 854.1 892.1 856.9C896.1 859.7 899.4 863.4 902.2 867.1C905 870.8 907 874.1 909 878.9C911 883.7 912.7 889.7 914.1 895.9C915.5 902.1 916.6 910.5 917.5 916.2C918.4 921.9 918.9 926.6 919.5 930C920.1 933.4 920.7 935.2 920.9 936.3" fill="none" stroke="#f01818" stroke-width="1.7" stroke-linejoin="round" stroke-linecap="round"/>
<path d="M90.4 855C90.5 870.8 90.9 922.5 91.2 950C91.5 977.5 91.8 1000.8 92.5 1020C93.2 1039.2 94.2 1053.8 95.5 1065C96.8 1076.2 98.5 1082 100 1087C101.5 1092 103.2 1094.4 104.7 1095C106.2 1095.5 107.6 1093.1 109 1090.1C110.4 1087.1 111.7 1085.3 112.9 1077C114.1 1068.6 115.2 1051.9 116.4 1039.9C117.6 1027.9 118.5 1014.7 119.8 1005.1C121.1 995.4 123 987.7 124.5 981.9C126 976.1 127.5 974 129.1 970.4C130.7 966.8 132.2 963.5 134 960.4C135.8 957.4 137.3 955.4 140 952.1C142.7 948.9 146.7 944.3 150 941C153.3 937.8 156.7 934.8 160 932.4C163.3 930 166.7 928.5 170 926.7C173.3 924.9 176.5 923 180 921.4C183.5 919.9 186.2 918.9 190.8 917.2C195.4 915.5 202 913.3 207.7 911.3C213.3 909.3 219 907.5 224.7 905.3C230.3 903.1 236 900.6 241.6 898.3C247.2 896 251.3 893.4 258.5 891.3C265.7 889.2 278.1 887 285 885.6C291.9 884.1 295 883.6 300 882.6C305 881.6 310.2 880.4 315 879.4C319.8 878.4 320.9 877.6 328.9 876.6C336.8 875.6 351.4 874.2 362.7 873.1C374 872.1 385.3 871.1 396.6 870.4C407.9 869.6 421.6 869.2 430.5 868.8C439.4 868.3 441.1 868.5 450 867.6C458.9 866.6 472.6 864.2 483.9 862.8C495.2 861.5 506.4 860.6 517.7 859.5C529 858.4 540.3 857.2 551.6 856.1C562.9 855 576.6 853.9 585.5 853.1C594.4 852.3 596.1 852.1 605 851.2C613.9 850.3 627.6 848.6 638.9 847.6C650.2 846.6 661.4 845.8 672.7 845.1C684 844.4 695.3 843.7 706.6 843.2C717.9 842.7 730.8 842.2 740.5 841.9C750.2 841.6 756.1 841.5 765 841.3C773.9 841.2 783.4 840.8 793.9 841C804.4 841.2 816.4 841.7 827.7 842.5C839 843.4 853.1 845 861.6 846.3C870.1 847.7 873.4 849.1 878.5 850.9C883.6 852.7 888.1 854.5 892.1 857.2C896.1 859.9 899.4 863.5 902.2 867.1C905 870.7 907 874.1 909 878.9C911 883.7 912.7 889.7 914.1 895.9C915.5 902.1 916.6 910.5 917.5 916.2C918.4 921.9 918.9 926.6 919.5 930C920.1 933.4 920.7 935.2 920.9 936.3" fill="none" stroke="#f01818" stroke-width="1.7" stroke-linejoin="round" stroke-linecap="round"/>
<path d="M90.4 855L90.4 855.9L90.5 857.1L90.5 858.5L90.6 860L90.7 861.7L90.7 863.5L90.8 865.3L90.9 867.1L91 869L91 870.7L91.1 872.3L91.2 873.7L91.3 875L91.5 877.3L91.7 879.2L91.9 880.9L92.1 882.3L92.3 883.5L92.6 884.7L93.7 887.3L95 888.5L97.5 887.3L99.2 885.8L100.9 884.7L102.2 885.1L103.5 886.4L104.4 887.4L105.5 888.6L106.6 889.9L107.7 891.1L108.9 892.4L110.2 893.5L111.9 894.9L113.1 895.7L114.4 896.6L115.9 897.6L117.4 898.5L118.9 899.5L120.4 900.4L121.8 901.3L123.1 902.1L124.5 902.9L125.9 903.7L127.3 904.6L128.9 905.5L130.2 906.3L131.5 907.2L132.9 908.1L134.4 909L135.8 909.9L137.2 910.8L138.6 911.6L140 912.3L141.5 913L142.9 913.5L144.4 914L145.8 914.4L147.2 914.8L148.6 915.3L150 915.8L151.4 916.4L152.9 917L154.3 917.6L155.7 918.3L157.1 919L158.6 919.6L160 920.3L161.4 921L162.9 921.7L164.3 922.3L165.7 923L167.1 923.7L168.6 924.4L170 925.1L171.4 925.8L172.8 926.4L174.2 927.1L175.7 927.8L177.1 928.4L178.5 929.1L180 929.7L181.4 930.3L182.8 930.8L184.3 931.3L185.7 931.9L187.2 932.4L188.9 933L190.8 933.7L192.1 934.2L193.5 934.7L195 935.2L196.5 935.7L198.1 936.3L199.7 936.9L201.3 937.4L202.9 938L204.5 938.6L206.1 939.2L207.7 939.8L209.1 940.3L210.5 940.9L211.9 941.5L213.4 942L214.8 942.6L216.2 943.2L217.6 943.8L219 944.4L220.5 944.9L221.9 945.5L223.3 946.1L224.7 946.6L226.2 947.2L227.8 947.7L229.3 948.3L230.9 948.8L232.4 949.3L233.9 949.8L235.5 950.3L237 950.9L238.5 951.4L240.1 952L241.6 952.7L243.1 953.3L244.7 953.8L246.2 954.3L247.7 954.8L249.3 955.2L250.8 955.6L252.3 956L253.9 956.4L255.4 956.9L257 957.5L258.5 958.2L260 958.9L261.6 959.6L263.1 960.3L264.6 961L266.1 961.5L267.6 962L269.1 962.4L270.7 962.8L272.3 963.1L273.9 963.5L275.5 963.9L276.9 964.3L278.4 964.8L279.9 965.4L281.4 966.1L282.9 966.8L284.5 967.5L286 968.1L287.6 968.7L289.1 969.1L290.6 969.5L292.1 969.8L293.6 970L295 970.2L296.7 970.5L298.3 970.8L300 971.1L301.7 971.6L303.3 972L304.9 972.5L306.5 973L308 973.4L309.4 973.7L310.7 974L311.9 974.2L314 974.5L315.4 974.8L316.7 975L318.2 975.2L320.4 975.6L321.6 975.8L322.9 976.1L324.2 976.4L325.7 976.9L327.2 977.3L328.8 977.8L330.4 978.2L332 978.5L333.8 978.6L335.5 978.6L337.2 978.6L339 978.4L340.4 978.3L342 978.2L343.5 978.2L345.1 978.2L346.8 978.3L348.4 978.4L350.1 978.5L351.8 978.5L353.5 978.5L355.1 978.3L356.7 978.1L358.3 977.8L359.8 977.4L361.3 977.1L362.7 976.8L364.5 976.6L366.2 976.4L367.8 976.3L369.4 976.2L370.9 976.2L372.4 976.1L373.8 976L375.3 975.8L376.7 975.6L378.2 975.2L379.7 974.8L381.2 974.4L382.8 973.9L384.3 973.4L385.9 973L387.4 972.7L388.9 972.5L390.5 972.3L392 972.1L393.5 972L395.1 971.8L396.6 971.6L398.1 971.3L399.7 970.9L401.2 970.4L402.7 969.9L404.3 969.3L405.8 968.8L407.3 968.3L408.9 967.8L410.4 967.5L412 967.2L413.5 966.9L415 966.6L416.6 966.3L418.1 965.9L419.6 965.5L421.1 964.9L422.6 964.3L424.1 963.6L425.7 962.8L427.3 962L428.9 961.3L430.5 960.7L431.9 960.2L433.4 959.7L434.9 959.4L436.4 959L437.9 958.7L439.5 958.3L441 957.8L442.6 957.3L444.1 956.6L445.6 956L447.1 955.2L448.6 954.5L450 953.8L451.5 953.1L453 952.5L454.4 952L455.8 951.5L457.2 951.1L458.6 950.7L460 950.3L461.4 949.9L462.7 949.4L464.1 948.9L465.5 948.3L466.9 947.6L468.3 946.9L469.7 946.1L471.1 945.4L472.6 944.7L474 944L475.4 943.4L476.8 942.9L478.2 942.4L479.7 942.1L481.1 941.7L482.5 941.3L483.9 941L485.4 940.5L487 940L488.5 939.5L490.1 938.9L491.6 938.3L493.1 937.6L494.7 937.1L496.2 936.5L497.7 936.1L499.3 935.7L500.8 935.3L502.2 935L503.6 934.6L505 934.2L506.4 933.7L507.8 933.2L509.2 932.5L510.7 931.8L512.1 931.1L513.5 930.3L514.9 929.6L516.3 928.9L517.7 928.3L519.2 927.7L520.8 927.3L522.3 926.9L523.9 926.7L525.4 926.4L527 926.2L528.5 925.9L530.1 925.5L531.6 925L533.2 924.4L534.7 923.7L536.2 923L537.8 922.3L539.3 921.6L540.9 921L542.4 920.5L543.9 920L545.5 919.6L547 919.3L548.5 918.9L550.1 918.6L551.6 918.1L553.1 917.7L554.7 917.1L556.2 916.5L557.7 915.9L559.3 915.3L560.8 914.8L562.3 914.4L563.9 914L565.4 913.8L567 913.6L568.5 913.5L570 913.4L571.6 913.3L573.1 913.2L574.6 913L576.1 912.7L577.6 912.4L579.1 912L580.7 911.6L582.3 911.3L583.9 911.1L585.5 911L586.9 910.9L588.2 911L589.5 911L590.8 911.1L592.2 911.3L593.5 911.4L594.9 911.4L596.3 911.4L597.9 911.3L599.5 911.2L601.2 911L603 910.8L605 910.6L606.3 910.6L607.6 910.6L609 910.7L610.4 910.9L611.9 911.1L613.4 911.3L615 911.5L616.6 911.7L618.3 911.7L619.9 911.7L621.6 911.6L623.3 911.5L624.9 911.5L626.6 911.5L628.2 911.5L629.9 911.6L631.5 911.7L633.1 911.9L634.6 912L636.1 912.1L637.5 912.2L638.9 912.2L640.7 912.3L642.5 912.4L644.2 912.5L645.8 912.6L647.5 912.8L649 912.9L650.6 913L652.1 913.2L653.6 913.3L655.1 913.4L656.6 913.5L658.1 913.6L659.7 913.7L661.2 913.8L662.7 913.9L664.3 914L665.9 914.1L667.5 914.1L669.2 914.2L670.8 914.2L672.5 914.3L674.2 914.3L675.9 914.4L677.5 914.4L679.2 914.4L680.8 914.5L682.4 914.5L683.9 914.5L685.5 914.5L686.9 914.5L688.3 914.4L689.7 914.4L691.6 914.3L693.3 914.2L694.9 914.1L696.5 913.9L698 913.8L699.4 913.6L700.8 913.4L702.2 913.2L703.6 913L705.1 912.9L706.6 912.7L708.1 912.5L709.7 912.4L711.2 912.2L712.7 912.1L714.3 911.9L715.8 911.8L717.3 911.6L718.9 911.4L720.4 911.2L722 911L723.5 910.8L725 910.6L726.5 910.3L727.9 910.1L729.4 909.8L730.8 909.5L732.3 909.3L733.8 909L735.3 908.7L737 908.3L738.7 908L740.5 907.6L741.8 907.3L743.2 907L744.6 906.7L746 906.4L747.5 906.1L748.9 905.8L750.5 905.4L752 905.1L753.6 904.8L755.2 904.4L756.8 904.1L758.4 903.7L760 903.4L761.7 903L763.3 902.7L765 902.4L766.4 902.1L767.8 901.9L769.3 901.6L770.7 901.4L772.2 901.1L773.6 900.9L775.1 900.6L776.6 900.4L778.1 900.1L779.6 899.9L781.2 899.6L782.7 899.4L784.3 899.1L785.8 898.9L787.4 898.6L789 898.4L790.6 898.1L792.3 897.9L793.9 897.6L795.3 897.4L796.8 897.1L798.3 896.9L799.7 896.7L801.2 896.4L802.8 896.2L804.3 896L805.8 895.7L807.4 895.5L808.9 895.2L810.5 895L812.1 894.7L813.6 894.5L815.2 894.3L816.8 894L818.3 893.8L819.9 893.6L821.5 893.3L823 893.1L824.6 892.9L826.2 892.7L827.7 892.5L829.2 892.3L830.8 892.1L832.3 891.9L833.9 891.7L835.4 891.6L836.9 891.4L838.5 891.2L840 891L841.6 890.9L843.1 890.7L844.6 890.5L846.2 890.4L847.7 890.2L849.3 890.1L850.8 889.9L852.4 889.7L853.9 889.6L855.4 889.4L857 889.3L858.5 889.1L860.1 889L861.6 888.8L863.2 888.6L864.7 888.5L866.3 888.3L867.9 888.1L869.6 888L871.2 887.8L872.9 887.7L874.5 887.5L876.1 887.3L877.8 887.2L879.4 887L881 886.8L882.6 886.7L884.2 886.5L885.7 886.4L887.2 886.2L888.7 886.1L890.2 885.9L891.6 885.8L892.9 885.7L894.2 885.5L895.5 885.4L897.5 885.2L899.5 885L901.3 884.8L903.1 884.6L904.8 884.4L906.4 884.2L908 884L909.4 883.8L910.8 883.7L912.2 883.5L913.4 883.4L914.6 883.3L915.8 883.2L918.1 883L919.9 882.9L921.5 882.8L922.8 882.8L924 882.8L925 883L926.9 883.9L927.5 886L927.5 886.8L927.4 887.4L927.2 888.1L926.9 889.4L926.5 891.6L926 895L925.9 896L925.7 897.1L925.6 898.4L925.4 899.8L925.2 901.2L925 902.8L924.8 904.4L924.6 906.1L924.4 907.9L924.2 909.7L923.9 911.5L923.7 913.4L923.5 915.3L923.2 917.1L923 919L922.8 920.8L922.6 922.6L922.4 924.4L922.1 926.1L921.9 927.7L921.8 929.3L921.6 930.7L921.4 932.1L921.3 933.3L921.1 934.5L921 935.5L920.9 936.3" fill="none" stroke="#f01818" stroke-width="1.7" stroke-linejoin="round" stroke-linecap="round"/>
<path d="M90.4 855L90.4 855.9L90.5 857.1L90.5 858.5L90.6 860L90.7 861.7L90.7 863.5L90.8 865.3L90.9 867.1L91 869L91 870.7L91.1 872.3L91.2 873.7L91.3 875L91.5 877.3L91.7 879.2L91.9 880.9L92.1 882.3L92.3 883.5L92.6 884.7L93.7 887.3L95 888.5L97.5 887.3L99.2 885.8L100.9 884.7L102.2 885.1L103.5 886.4L104.4 887.4L105.5 888.6L106.6 889.9L107.7 891.1L108.9 892.4L110.2 893.5L111.9 894.9L113.1 895.7L114.4 896.6L115.9 897.6L117.4 898.5L118.9 899.5L120.4 900.4L121.8 901.3L123.1 902.1L124.5 902.9L125.9 903.7L127.3 904.6L128.9 905.5L130.2 906.3L131.5 907.2L132.9 908.1L134.4 909L135.8 909.9L137.2 910.8L138.6 911.6L140 912.3L141.5 913L142.9 913.5L144.4 914L145.8 914.4L147.2 914.8L148.6 915.3L150 915.8L151.4 916.4L152.9 917L154.3 917.6L155.7 918.3L157.1 919L158.6 919.6L160 920.3L161.4 921L162.9 921.7L164.3 922.3L165.7 923L167.1 923.7L168.6 924.4L170 925.1L171.4 925.8L172.8 926.4L174.2 927.1L175.7 927.8L177.1 928.4L178.5 929.1L180 929.7L181.4 930.3L182.8 930.8L184.3 931.3L185.7 931.9L187.2 932.4L188.9 933L190.8 933.7L192.1 934.2L193.5 934.7L195 935.2L196.5 935.7L198.1 936.3L199.7 936.9L201.3 937.4L202.9 938L204.5 938.6L206.1 939.2L207.7 939.8L209.1 940.3L210.5 940.9L211.9 941.5L213.4 942L214.8 942.6L216.2 943.2L217.6 943.8L219 944.4L220.5 944.9L221.9 945.5L223.3 946.1L224.7 946.6L226.2 947.2L227.8 947.7L229.3 948.3L230.9 948.8L232.4 949.3L233.9 949.8L235.5 950.4L237 951L238.5 951.6L240.1 952.1L241.6 952.7L243.1 953.2L244.7 953.7L246.2 954.1L247.7 954.5L249.3 954.9L250.8 955.4L252.3 955.9L253.9 956.5L255.4 957.1L257 957.9L258.5 958.6L260 959.3L261.6 959.9L263.1 960.4L264.6 960.9L266.1 961.3L267.6 961.7L269.1 962L270.7 962.4L272.3 962.8L273.9 963.3L275.5 963.9L276.9 964.5L278.4 965.2L279.9 965.9L281.4 966.5L282.9 967.1L284.5 967.7L286 968.1L287.6 968.5L289.1 968.8L290.6 969.1L292.1 969.3L293.6 969.6L295 970L296.7 970.4L298.3 970.9L300 971.5L301.7 972.1L303.3 972.6L304.9 973L306.5 973.4L308 973.7L309.4 973.8L310.7 974L311.9 974.1L314 974.4L315.4 974.8L316.7 975.1L318.2 975.6L320.4 976.2L321.6 976.6L322.9 977L324.2 977.5L325.7 977.9L327.2 978.4L328.8 978.7L330.4 978.9L332 979.1L333.8 979.1L335.5 979.1L337.2 979.1L339 979.1L340.4 979.2L342 979.3L343.5 979.5L345.1 979.7L346.8 979.9L348.4 980L350.1 980L351.8 979.9L353.5 979.7L355.1 979.4L356.7 979.1L358.3 978.8L359.8 978.6L361.3 978.4L362.7 978.3L364.5 978.3L366.2 978.4L367.8 978.4L369.4 978.4L370.9 978.3L372.4 978.2L373.8 977.9L375.3 977.6L376.7 977.2L378.2 976.8L379.7 976.4L381.2 976L382.8 975.6L384.3 975.3L385.9 975.1L387.4 975L388.9 974.8L390.5 974.7L392 974.5L393.5 974.3L395.1 974L396.6 973.6L398.1 973.1L399.7 972.6L401.2 972.1L402.7 971.6L404.3 971.2L405.8 970.8L407.3 970.6L408.9 970.4L410.4 970.2L412 970L413.5 969.8L415 969.5L416.6 969.1L418.1 968.6L419.6 968.1L421.1 967.4L422.6 966.8L424.1 966.1L425.7 965.5L427.3 965L428.9 964.6L430.5 964.2L431.9 964L433.4 963.7L434.9 963.5L436.4 963.3L437.9 962.9L439.5 962.5L441 962L442.6 961.4L444.1 960.8L445.6 960.2L447.1 959.7L448.6 959.2L450 958.8L451.6 958.4L453.2 958L454.8 957.8L456.3 957.5L457.9 957.2L459.4 956.8L460.9 956.4L462.4 955.9L463.9 955.3L465.4 954.6L466.9 954L468.4 953.3L470 952.7L471.5 952.2L473.1 951.8L474.6 951.4L476.2 951.1L477.7 950.8L479.3 950.5L480.8 950.2L482.4 949.8L483.9 949.4L485.4 948.9L487 948.4L488.5 947.9L490.1 947.5L491.6 947L493.1 946.7L494.7 946.5L496.2 946.3L497.7 946.1L499.3 946L500.8 945.8L502.3 945.6L503.9 945.2L505.4 944.7L506.9 944.1L508.5 943.5L510 942.8L511.5 942.1L513.1 941.5L514.6 940.9L516.2 940.5L517.7 940.2L519.2 940.1L520.8 940L522.3 939.9L523.9 939.9L525.4 939.8L527 939.6L528.5 939.3L530.1 939L531.6 938.6L533.2 938.1L534.7 937.7L536.2 937.2L537.8 936.9L539.3 936.5L540.9 936.2L542.4 936L543.9 935.7L545.5 935.5L547 935.2L548.5 934.9L550.1 934.5L551.6 934.1L553.1 933.7L554.7 933.3L556.2 932.9L557.7 932.7L559.3 932.5L560.8 932.4L562.3 932.4L563.9 932.5L565.4 932.5L567 932.5L568.5 932.5L570 932.3L571.6 932L573.1 931.6L574.6 931.2L576.1 930.7L577.6 930.1L579.1 929.6L580.7 929.2L582.3 928.9L583.9 928.7L585.5 928.5L586.9 928.4L588.4 928.4L589.9 928.2L591.4 928.1L592.9 927.8L594.5 927.5L596 927.1L597.6 926.7L599.1 926.2L600.6 925.8L602.1 925.4L603.6 925.2L605 925L606.6 924.9L608.2 924.8L609.8 924.8L611.3 924.8L612.9 924.7L614.4 924.6L615.9 924.4L617.4 924L618.9 923.7L620.4 923.2L621.9 922.8L623.4 922.3L625 922L626.5 921.6L628.1 921.4L629.6 921.2L631.2 921L632.7 920.9L634.3 920.6L635.8 920.4L637.4 920L638.9 919.5L640.4 919L642 918.5L643.5 918L645.1 917.5L646.6 917L648.1 916.7L649.7 916.4L651.2 916.2L652.7 916L654.3 915.8L655.8 915.6L657.3 915.4L658.9 915L660.4 914.6L661.9 914L663.5 913.5L665 912.9L666.5 912.3L668.1 911.8L669.6 911.4L671.2 911.1L672.7 910.8L674.2 910.6L675.8 910.4L677.3 910.2L678.9 909.9L680.4 909.5L682 909.1L683.5 908.6L685.1 908.1L686.6 907.6L688.2 907.2L689.7 906.7L691.2 906.4L692.8 906L694.3 905.7L695.9 905.4L697.4 905L698.9 904.7L700.5 904.3L702 903.9L703.5 903.5L705.1 903.2L706.6 902.8L708.1 902.4L709.7 902.1L711.2 901.7L712.7 901.3L714.3 901L715.8 900.6L717.3 900.3L718.9 899.9L720.4 899.6L722 899.2L723.5 898.9L725 898.6L726.6 898.2L728.1 897.9L729.6 897.5L731.1 897.2L732.6 896.9L734.1 896.6L735.7 896.3L737.3 896L738.9 895.7L740.5 895.5L741.9 895.3L743.2 895.2L744.5 895.1L745.8 895.1L747.2 895L748.5 895L749.9 894.9L751.3 894.9L752.9 894.8L754.5 894.7L756.2 894.6L758 894.4L760 894.2L761.2 894L762.5 893.9L763.9 893.7L765.3 893.5L766.7 893.3L768.2 893L769.7 892.8L771.3 892.6L772.8 892.3L774.4 892.1L776.1 891.8L777.7 891.5L779.3 891.3L781 891L782.6 890.8L784.3 890.5L785.9 890.2L787.5 890L789.2 889.8L790.8 889.5L792.3 889.3L793.9 889.1L795.4 888.9L797 888.7L798.5 888.5L800.1 888.3L801.6 888.1L803.1 888L804.7 887.8L806.2 887.6L807.7 887.4L809.3 887.3L810.8 887.1L812.3 886.9L813.9 886.8L815.4 886.6L816.9 886.5L818.5 886.3L820 886.1L821.5 886L823.1 885.8L824.6 885.7L826.2 885.5L827.7 885.4L829.2 885.3L830.8 885.1L832.3 885L833.9 884.8L835.4 884.7L836.9 884.6L838.5 884.4L840 884.3L841.6 884.2L843.1 884.1L844.6 883.9L846.2 883.8L847.7 883.7L849.3 883.6L850.8 883.5L852.4 883.4L853.9 883.3L855.4 883.1L857 883L858.5 882.9L860.1 882.8L861.6 882.7L863.2 882.6L864.7 882.5L866.3 882.4L867.9 882.3L869.6 882.2L871.2 882.1L872.9 882L874.5 881.9L876.1 881.8L877.8 881.7L879.4 881.6L881 881.5L882.6 881.4L884.2 881.3L885.7 881.2L887.2 881.1L888.7 881L890.2 880.9L891.6 880.8L892.9 880.8L894.2 880.7L895.5 880.6L897.5 880.5L899.5 880.4L901.3 880.3L903.1 880.2L904.8 880.1L906.4 880L908 879.9L909.4 879.8L910.8 879.7L912.2 879.6L913.4 879.5L914.6 879.4L915.8 879.3L918.1 879L919.9 878.7L921.5 878.3L922.8 878L924 877.7L925 877.5L927.4 877.7L927.9 879L928.3 881L928.3 883.3L928.2 884.2L928 884.9L927.8 885.6L927.4 886.8L927 889L926.4 892.6L926.3 893.6L926.1 894.7L926 895.9L925.8 897.2L925.6 898.6L925.4 900.1L925.2 901.7L925 903.4L924.8 905.1L924.6 906.8L924.3 908.6L924.1 910.4L923.9 912.3L923.6 914.1L923.4 916L923.2 917.8L923 919.6L922.7 921.4L922.5 923.1L922.3 924.8L922.1 926.5L921.9 928L921.7 929.5L921.6 930.9L921.4 932.2L921.3 933.4L921.1 934.5L921 935.5L920.9 936.3" fill="none" stroke="#f01818" stroke-width="1.7" stroke-linejoin="round" stroke-linecap="round"/>
<path d="M91 800C91.1 816.7 91.5 866.7 91.8 900C92.1 933.3 92.5 973.3 93 1000C93.5 1026.7 94.2 1045.8 95 1060C95.8 1074.2 96.7 1079.9 97.5 1085C98.3 1090.1 99.2 1090.3 100.1 1090.8C101 1091.3 101.8 1090.6 103 1088C104.2 1085.4 105.5 1081.1 107 1075C108.5 1068.9 110.3 1060.1 111.7 1051.3C113.1 1042.5 113.9 1033.9 115.2 1022.3C116.5 1010.7 118.6 990.3 119.8 981.6C121 972.9 121.1 975.1 122.2 970C123.3 964.9 124.7 957 126.3 951C127.9 945 129.4 939.2 132 934C134.6 928.8 139.3 923.3 141.6 920C143.9 916.7 143.7 916.6 145.8 914C147.9 911.4 151.5 907.1 154.3 904.6C157.1 902.1 159.9 900.5 162.7 898.7C165.5 896.9 168.3 895.6 171.2 894C174.1 892.4 176.9 890.8 180 889.2C183.1 887.6 186.7 886 190 884.5C193.3 883 193.3 882.6 200 880.1C206.7 877.6 220 872.6 230 869.4C240 866.2 250 864 260 861.1C270 858.2 278.5 855 290 852.2C301.5 849.4 316.8 846.5 328.9 844.2C341 841.9 351.4 840.1 362.7 838.3C374 836.5 385.3 834.9 396.6 833.2C407.9 831.5 421.6 829.3 430.5 828.1C439.4 826.9 441.1 827 450 826C458.9 825 472.6 823.1 483.9 821.8C495.2 820.5 506.4 819.4 517.7 818.4C529 817.4 540.3 816.7 551.6 815.9C562.9 815.1 576.6 814.4 585.5 813.8C594.4 813.2 596.1 813 605 812.5C613.9 812 627.6 811.3 638.9 810.8C650.2 810.3 661.4 809.9 672.7 809.6C684 809.3 695.3 809.2 706.6 809.1C717.9 809 731.6 809.1 740.5 809.1C749.4 809.1 751.1 809 760 809.1C768.9 809.2 782.6 809.2 793.9 809.6C805.2 810 816.4 810.6 827.7 811.6C839 812.6 853.1 814.3 861.6 815.9C870.1 817.5 872.9 818.8 878.5 821C884.1 823.2 891 826.3 895.5 829.4C900 832.5 903.1 836.2 905.6 839.6C908.1 843 909.1 844.9 910.7 850C912.3 855.1 913.7 863.3 915 870C916.3 876.7 917.5 883.1 918.5 890C919.5 896.9 920.8 907.7 921.2 911.2" fill="none" stroke="#5b9bd5" stroke-width="1.7" stroke-linejoin="round" stroke-linecap="round"/>
<path d="M91 800C91.1 816.7 91.5 866.7 91.8 900C92.1 933.3 92.5 974.7 93 1000C93.5 1025.3 94.2 1040.3 95 1052C95.8 1063.7 96.4 1065.9 97.5 1070C98.6 1074.1 100.3 1075.9 101.6 1076.5C102.8 1077.1 103.9 1075.4 105 1073.5C106.1 1071.6 106.9 1068.7 108 1065C109.1 1061.3 110.5 1058.4 111.7 1051.3C112.9 1044.2 113.9 1033.9 115.2 1022.3C116.5 1010.7 118.6 990.3 119.8 981.6C121 972.9 121.1 975.1 122.2 970C123.3 964.9 124.7 957 126.3 951C127.9 945 129.4 939.2 132 934.1C134.6 929 139.3 923.5 141.6 920.2C143.9 916.9 143.7 916.8 145.8 914.3C147.9 911.7 151.5 907.5 154.3 905C157.1 902.5 159.9 900.9 162.7 899.2C165.5 897.5 168.3 896.2 171.2 894.6C174.1 893.1 176.9 891.5 180 889.9C183.1 888.4 186.7 886.8 190 885.4C193.3 883.9 193.3 883.5 200 881.1C206.7 878.7 220 874.1 230 871.1C240 868.2 250 866.2 260 863.6C270 861 278.5 857.8 290 855.3C301.5 852.8 316.8 850.5 328.9 848.4C341 846.2 351.4 844.3 362.7 842.5C374 840.7 385.3 838.9 396.6 837.4C407.9 835.9 421.6 834.4 430.5 833.6C439.4 832.7 441.1 833.3 450 832.3C458.9 831.3 472.6 829.1 483.9 827.8C495.2 826.4 506.4 825.2 517.7 824C529 822.9 540.3 821.9 551.6 820.9C562.9 820 576.6 819 585.5 818.3C594.4 817.5 596.1 817.2 605 816.7C613.9 816.2 627.6 815.7 638.9 815C650.2 814.3 661.4 813.3 672.7 812.6C684 811.9 695.3 811.4 706.6 810.9C717.9 810.5 731.6 810.3 740.5 810C749.4 809.7 751.1 809.3 760 809.3C768.9 809.2 782.6 809.2 793.9 809.6C805.2 810 816.4 810.6 827.7 811.6C839 812.6 853.1 814.3 861.6 815.9C870.1 817.5 873.8 819.7 878.5 821C883.2 822.3 886.4 822 890 823.5C893.6 825 897.2 827.6 900 830C902.8 832.4 905 834.7 907 838C909 841.3 910.5 845 912 850C913.5 855 914.8 862.2 916 868C917.2 873.8 918.4 880 919.5 885C920.6 890 922.2 896 922.7 898.2" fill="none" stroke="#5b9bd5" stroke-width="1.7" stroke-linejoin="round" stroke-linecap="round"/>
<path d="M91 800L91 800.9L91.1 802.1L91.2 803.5L91.2 805.1L91.3 806.8L91.4 808.6L91.5 810.5L91.6 812.4L91.7 813.8L91.7 815.4L91.8 817L91.9 818.7L92 820.5L92.1 822.2L92.1 823.9L92.2 825.6L92.3 827.2L92.4 828.7L92.5 830L92.7 832.2L92.9 834.2L93.1 836L93.3 837.5L93.5 838.9L93.7 840L95 841.9L96.2 843.1L97.5 844L100.1 842.7L101.7 843.3L103.5 844.8L104.3 845.8L105.1 847.2L106 848.6L106.8 850L107.7 851.2L108.9 852.7L110.2 854L111.9 855.4L113.1 856.3L114.4 857.3L115.9 858.3L117.4 859.4L118.9 860.4L120.4 861.3L121.8 862.1L123.1 862.8L124.5 863.5L125.9 864.2L127.3 865L128.9 866L130 866.8L131.1 867.6L132.2 868.5L133.3 869.4L134.5 870.3L135.8 871.3L137.1 872.3L138.5 873.3L140 874.2L141.2 874.9L142.5 875.6L143.8 876.3L145.2 877L146.6 877.7L148.1 878.4L149.6 879.1L151 879.8L152.5 880.5L154 881.2L155.5 881.9L156.9 882.6L158.3 883.3L159.7 884L161.1 884.7L162.6 885.4L164 886.1L165.4 886.8L166.8 887.5L168.2 888.2L169.7 889L171.1 889.7L172.5 890.4L173.9 891.1L175.3 891.8L176.7 892.6L178.1 893.3L179.5 894.1L180.9 894.8L182.4 895.6L183.8 896.3L185.2 897L186.6 897.8L188 898.5L189.4 899.1L190.8 899.8L192.2 900.4L193.6 901.1L195 901.7L196.4 902.3L197.8 902.8L199.2 903.4L200.7 904L202.1 904.5L203.5 905L204.9 905.6L206.3 906.1L207.7 906.6L209.2 907.1L210.8 907.6L212.3 908.1L213.9 908.6L215.4 909.1L217 909.5L218.5 910L220.1 910.5L221.6 910.9L223.2 911.4L224.7 911.9L226.2 912.4L227.8 912.9L229.3 913.5L230.9 914L232.4 914.5L233.9 915L235.5 915.5L237 916.1L238.5 916.7L240.1 917.3L241.6 917.9L243.1 918.5L244.7 919.1L246.2 919.7L247.7 920.2L249.3 920.6L250.8 921.1L252.3 921.4L253.9 921.8L255.4 922.3L257 922.8L258.5 923.3L260 924L261.6 924.7L263.1 925.4L264.6 926.1L266.1 926.7L267.6 927.3L269.1 927.8L270.7 928.2L272.3 928.6L273.9 929L275.5 929.4L276.9 929.7L278.4 930.2L279.9 930.7L281.4 931.3L282.9 932L284.5 932.7L286 933.4L287.6 934.1L289.1 934.6L290.6 935.1L292.1 935.5L293.6 935.8L295 936L296.6 936.3L298.2 936.5L299.8 936.8L301.3 937.1L302.9 937.4L304.4 937.8L305.9 938.2L307.4 938.7L308.9 939.1L310.4 939.5L311.9 939.8L313.5 940.1L315.1 940.3L316.7 940.4L318.3 940.6L319.9 940.7L321.5 941L323.1 941.3L324.6 941.6L326.1 942L327.5 942.5L328.9 942.9L330.6 943.4L332 943.8L333.3 944.2L334.5 944.5L335.8 944.8L337.2 944.9L338.8 944.9L340.7 944.8L342 944.8L343.4 944.7L344.8 944.7L346.4 944.7L348 944.8L349.7 945L351.4 945.1L353.1 945.2L354.8 945.3L356.5 945.2L358.1 945L359.7 944.8L361.3 944.6L362.7 944.3L364.4 944.1L366.1 943.9L367.7 943.8L369.3 943.7L370.8 943.7L372.3 943.8L373.7 943.8L375.2 943.7L376.7 943.6L378.2 943.4L379.7 943.1L381.2 942.8L382.8 942.3L384.3 941.9L385.9 941.5L387.4 941L388.9 940.7L390.5 940.4L392 940.2L393.5 940L395.1 939.8L396.6 939.6L398.1 939.4L399.7 939.1L401.2 938.7L402.7 938.3L404.3 937.8L405.8 937.2L407.3 936.7L408.9 936.1L410.4 935.7L412 935.3L413.5 934.9L415 934.6L416.6 934.3L418.1 933.9L419.6 933.5L421.1 933.1L422.6 932.5L424.1 931.9L425.7 931.2L427.3 930.4L428.9 929.7L430.5 929L431.9 928.4L433.4 927.9L434.9 927.4L436.4 927L437.9 926.7L439.5 926.3L441 925.9L442.6 925.4L444.1 924.9L445.6 924.3L447.1 923.7L448.6 923.1L450 922.4L451.6 921.7L453.2 921.1L454.8 920.6L456.3 920.1L457.9 919.8L459.4 919.5L460.9 919.2L462.4 918.8L463.9 918.5L465.4 918L466.9 917.4L468.3 916.7L469.7 916L471.1 915.3L472.6 914.5L474 913.7L475.4 913L476.8 912.3L478.2 911.6L479.7 911.1L481.1 910.6L482.5 910.1L483.9 909.6L485.3 909.1L486.7 908.5L488.1 907.9L489.5 907.3L490.9 906.6L492.4 905.8L493.8 905L495.2 904.3L496.6 903.5L498 902.8L499.4 902.1L500.8 901.5L502.2 900.9L503.6 900.3L505 899.6L506.4 899L507.8 898.3L509.2 897.5L510.7 896.7L512.1 895.9L513.5 894.9L514.9 894L516.3 893.1L517.7 892.2L519.1 891.5L520.5 890.8L521.9 890.1L523.4 889.6L524.8 889.1L526.2 888.7L527.6 888.3L529 887.8L530.5 887.3L531.9 886.6L533.3 885.9L534.7 885.2L536.1 884.3L537.5 883.4L538.9 882.5L540.3 881.6L541.7 880.7L543.2 879.9L544.6 879.1L546 878.4L547.4 877.8L548.8 877.1L550.2 876.5L551.6 875.9L553 875.3L554.4 874.6L555.8 873.9L557.2 873.1L558.6 872.3L560 871.4L561.5 870.7L562.9 869.9L564.3 869.3L565.7 868.7L567.1 868.2L568.5 867.7L570 867.3L571.6 866.8L573.1 866.4L574.6 865.9L576.1 865.3L577.6 864.7L579.1 864.1L580.7 863.4L582.3 862.8L583.9 862.3L585.5 861.8L586.9 861.4L588.2 861.1L589.5 860.8L590.8 860.6L592.2 860.3L593.5 860L594.9 859.8L596.3 859.5L597.9 859.2L599.5 859L601.2 858.8L603 858.6L605 858.5L606.2 858.4L607.5 858.4L608.9 858.4L610.3 858.3L611.7 858.3L613.2 858.3L614.7 858.3L616.3 858.4L617.8 858.4L619.4 858.4L621.1 858.5L622.7 858.5L624.3 858.6L626 858.6L627.6 858.7L629.3 858.7L630.9 858.8L632.5 858.8L634.2 858.9L635.8 858.9L637.3 859L638.9 859L640.4 859L642 859.1L643.5 859.1L645.1 859.1L646.6 859.2L648.1 859.2L649.7 859.2L651.2 859.3L652.7 859.3L654.3 859.4L655.8 859.4L657.3 859.4L658.9 859.5L660.4 859.5L661.9 859.6L663.5 859.6L665 859.7L666.5 859.8L668.1 859.8L669.6 859.9L671.2 859.9L672.7 860L674.2 860.1L675.8 860.1L677.3 860.2L678.9 860.3L680.4 860.4L681.9 860.5L683.5 860.5L685 860.6L686.6 860.7L688.1 860.8L689.6 860.9L691.2 861L692.7 861.1L694.3 861.2L695.8 861.3L697.4 861.4L698.9 861.5L700.4 861.6L702 861.7L703.5 861.8L705.1 861.9L706.6 862L708.2 862.1L709.7 862.2L711.3 862.3L712.9 862.5L714.5 862.6L716.1 862.7L717.7 862.9L719.3 863L720.9 863.1L722.5 863.3L724.1 863.4L725.7 863.5L727.3 863.6L728.9 863.8L730.4 863.9L731.9 864L733.4 864.1L734.9 864.2L736.4 864.3L737.8 864.4L739.2 864.5L740.5 864.6L742.3 864.7L744 864.8L745.6 864.9L747.2 864.9L748.7 865L750.2 865L751.6 865.1L753.1 865.1L754.5 865.1L755.9 865.2L757.3 865.2L758.8 865.2L760.3 865.2L761.8 865.2L763.4 865.2L765 865.2L766.4 865.2L767.8 865.2L769.3 865.2L770.7 865.2L772.2 865.2L773.6 865.2L775.1 865.2L776.6 865.1L778.1 865.1L779.6 865.1L781.2 865.1L782.7 865L784.3 865L785.8 864.9L787.4 864.9L789 864.8L790.6 864.8L792.3 864.7L793.9 864.6L795.3 864.5L796.8 864.4L798.3 864.3L799.7 864.2L801.2 864.1L802.8 864L804.3 863.9L805.8 863.8L807.4 863.7L808.9 863.5L810.5 863.4L812.1 863.3L813.6 863.2L815.2 863L816.8 862.9L818.3 862.8L819.9 862.6L821.5 862.5L823 862.4L824.6 862.2L826.2 862.1L827.7 862L829.2 861.9L830.8 861.8L832.3 861.7L833.9 861.5L835.4 861.4L836.9 861.3L838.5 861.2L840 861.1L841.6 861L843.1 860.9L844.6 860.8L846.2 860.6L847.7 860.5L849.3 860.4L850.8 860.3L852.4 860.2L853.9 860.1L855.4 860L857 859.8L858.5 859.7L860.1 859.6L861.6 859.5L863.2 859.4L864.7 859.3L866.3 859.1L867.9 859L869.6 858.9L871.2 858.8L872.9 858.6L874.5 858.5L876.1 858.4L877.8 858.3L879.4 858.1L881 858L882.6 857.9L884.2 857.8L885.7 857.7L887.2 857.5L888.7 857.4L890.2 857.3L891.6 857.2L892.9 857.1L894.2 857L895.5 856.9L897.5 856.7L899.5 856.6L901.3 856.4L903.1 856.3L904.8 856.1L906.4 856L908 855.9L909.4 855.7L910.8 855.6L912.2 855.5L913.4 855.4L914.6 855.3L915.8 855.2L918.1 855L919.9 854.8L921.5 854.6L922.8 854.5L924 854.4L925 854.5L926.8 855.4L927.4 857L927.4 858.2L927 859.6L926.5 862L926.3 863.1L926 864.1L925.7 865.3L925.4 866.5L925 868.1L924.7 869.9L924.3 872.2L924 875L923.9 876.1L923.8 877.3L923.6 878.7L923.5 880.1L923.4 881.6L923.3 883.3L923.1 885L923 886.7L922.8 888.5L922.7 890.3L922.6 892.1L922.4 893.9L922.3 895.7L922.2 897.5L922.1 899.3L921.9 901L921.8 902.6L921.7 904.2L921.6 905.6L921.5 907L921.4 908.2L921.3 909.4L921.3 910.4L921.2 911.2" fill="none" stroke="#5b9bd5" stroke-width="1.7" stroke-linejoin="round" stroke-linecap="round"/>
<path d="M91 800L91 800.9L91.1 802L91.2 803.3L91.2 804.8L91.3 806.5L91.4 808.4L91.5 810.3L91.6 812.4L91.7 813.7L91.7 815.1L91.8 816.6L91.8 818.2L91.9 819.8L91.9 821.5L92 823.2L92.1 824.9L92.1 826.6L92.2 828.3L92.3 829.8L92.4 831.3L92.4 832.7L92.5 834L92.6 836L92.8 837.9L92.9 839.6L93.1 841.2L93.2 842.7L93.4 843.9L93.5 845L93.7 846L95 848L96.2 849.2L97.5 850L98.7 849.3L100.1 848.5L101.7 849L103.5 850.2L104.5 851.2L105.6 852.5L106.6 853.8L107.7 855L108.9 856.3L110.2 857.5L111.9 859L112.9 859.8L114 860.7L115.2 861.7L116.5 862.7L117.8 863.7L119.1 864.6L120.4 865.5L121.8 866.4L123.1 867.2L124.5 867.9L125.9 868.7L127.3 869.5L128.9 870.5L130 871.2L131.1 872L132.2 872.8L133.3 873.7L134.5 874.6L135.8 875.5L137.1 876.4L138.5 877.3L140 878.2L141.2 878.9L142.5 879.5L143.8 880.2L145.2 880.9L146.6 881.6L148.1 882.2L149.6 882.9L151 883.6L152.5 884.3L154 885L155.5 885.7L156.9 886.4L158.3 887.1L159.7 887.8L161.1 888.5L162.6 889.2L164 889.9L165.4 890.6L166.8 891.3L168.2 892.1L169.7 892.8L171.1 893.5L172.5 894.2L173.9 894.9L175.3 895.6L176.7 896.3L178.1 897.1L179.5 897.8L180.9 898.5L182.4 899.3L183.8 900L185.2 900.7L186.6 901.4L188 902.1L189.4 902.8L190.8 903.4L192.2 904L193.6 904.6L195 905.2L196.4 905.8L197.8 906.4L199.2 906.9L200.7 907.5L202.1 908L203.5 908.6L204.9 909.1L206.3 909.6L207.7 910.1L209.2 910.6L210.8 911.2L212.3 911.7L213.9 912.1L215.4 912.6L217 913.1L218.5 913.6L220.1 914L221.6 914.5L223.2 915L224.7 915.5L226.2 916L227.8 916.5L229.3 917.1L230.9 917.6L232.4 918.1L233.9 918.7L235.5 919.3L237 919.9L238.5 920.5L240.1 921L241.6 921.5L243.1 922L244.7 922.4L246.2 922.9L247.7 923.3L249.3 923.7L250.8 924.3L252.3 924.9L253.9 925.5L255.4 926.3L257 927L258.5 927.7L260 928.3L261.6 928.8L263.1 929.2L264.6 929.6L266.1 929.9L267.6 930.2L269.1 930.6L270.7 931L272.3 931.5L273.9 932.1L275.5 932.8L276.9 933.4L278.4 934.1L279.9 934.7L281.4 935.3L282.9 935.8L284.5 936.2L286 936.6L287.6 936.8L289.1 937.1L290.6 937.4L292.1 937.6L293.6 938L295 938.4L296.6 938.9L298.2 939.4L299.8 939.9L301.3 940.4L302.9 940.8L304.4 941.2L305.9 941.4L307.4 941.5L308.9 941.6L310.4 941.7L311.9 941.8L313.5 941.9L315.1 942.1L316.7 942.4L318.3 942.8L319.9 943.3L321.5 943.8L323.1 944.2L324.6 944.6L326.1 945L327.5 945.2L328.9 945.4L330.8 945.5L332.4 945.7L333.8 945.8L335.2 945.9L336.7 946.1L338.5 946.2L340.7 946.5L342 946.7L343.4 946.9L344.8 947L346.4 947.2L348 947.2L349.7 947.2L351.4 947L353.1 946.8L354.8 946.5L356.5 946.2L358.1 946L359.7 945.9L361.3 945.9L362.7 945.9L364.4 946L366.1 946.1L367.7 946.2L369.3 946.2L370.8 946.1L372.3 945.9L373.7 945.6L375.2 945.3L376.7 944.9L378.2 944.6L379.7 944.2L381.2 943.9L382.8 943.7L384.3 943.6L385.9 943.5L387.4 943.4L388.9 943.3L390.5 943.1L392 942.9L393.5 942.6L395.1 942.2L396.6 941.8L398.1 941.3L399.7 940.8L401.2 940.4L402.7 940L404.3 939.7L405.8 939.5L407.3 939.3L408.9 939.2L410.4 939.1L412 938.9L413.5 938.6L415 938.3L416.6 937.8L418.1 937.3L419.6 936.6L421.1 936L422.6 935.4L424.1 934.8L425.7 934.3L427.3 933.9L428.9 933.6L430.5 933.3L431.9 933.1L433.4 932.9L434.9 932.6L436.4 932.3L437.9 931.9L439.5 931.4L441 930.8L442.6 930.2L444.1 929.7L445.6 929.2L447.1 928.7L448.6 928.4L450 928.1L451.6 927.9L453.2 927.8L454.8 927.7L456.3 927.5L457.9 927.3L459.4 927L460.9 926.6L462.4 926.2L463.9 925.7L465.4 925.2L466.9 924.7L468.4 924.2L470 923.9L471.5 923.5L473.1 923.3L474.6 923.1L476.2 922.9L477.7 922.7L479.3 922.5L480.8 922.2L482.4 921.8L483.9 921.3L485.4 920.8L487 920.2L488.5 919.7L490.1 919.3L491.6 918.9L493.1 918.6L494.7 918.4L496.2 918.2L497.7 918.1L499.3 917.9L500.8 917.7L502.3 917.4L503.9 917L505.4 916.5L506.9 915.9L508.5 915.3L510 914.7L511.5 914.2L513.1 913.7L514.6 913.3L516.2 913.1L517.7 912.9L519.2 912.8L520.8 912.7L522.3 912.7L523.9 912.5L525.4 912.3L527 912.1L528.5 911.7L530.1 911.3L531.6 910.9L533.2 910.5L534.7 910.1L536.2 909.7L537.8 909.5L539.3 909.2L540.9 909.1L542.4 908.9L543.9 908.6L545.5 908.4L547 908L548.5 907.5L550.1 907L551.6 906.5L553.1 905.9L554.7 905.4L556.2 904.9L557.7 904.6L559.3 904.3L560.8 904L562.3 903.9L563.9 903.7L565.4 903.6L567 903.4L568.5 903L570 902.7L571.6 902.2L573.1 901.6L574.6 901.1L576.1 900.5L577.6 900L579.1 899.5L580.7 899.1L582.3 898.8L583.9 898.6L585.5 898.4L586.9 898.3L588.4 898.1L589.9 897.9L591.4 897.5L592.9 897.1L594.5 896.7L596 896.2L597.6 895.6L599.1 895.2L600.6 894.7L602.1 894.4L603.6 894.1L605 893.9L606.6 893.7L608.2 893.6L609.8 893.4L611.3 893.2L612.9 892.8L614.4 892.4L615.9 891.9L617.4 891.4L618.9 890.8L620.4 890.2L621.9 889.6L623.3 889.1L624.7 888.7L626.1 888.3L627.6 887.9L629 887.5L630.4 887.2L631.8 886.8L633.2 886.4L634.7 885.9L636.1 885.4L637.5 884.8L638.9 884.2L640.4 883.5L642 882.8L643.5 882.2L645.1 881.7L646.6 881.2L648.1 880.9L649.7 880.6L651.2 880.3L652.7 880.1L654.3 879.8L655.8 879.4L657.3 878.9L658.9 878.4L660.4 877.8L661.9 877.1L663.5 876.5L665 876L666.5 875.5L668.1 875L669.6 874.6L671.2 874.2L672.7 873.9L674.2 873.5L675.8 873.1L677.3 872.7L678.9 872.3L680.4 871.8L682 871.4L683.5 871.1L685.1 870.7L686.6 870.3L688.2 870L689.7 869.6L691.2 869.3L692.8 868.9L694.3 868.6L695.9 868.3L697.4 868L698.9 867.7L700.5 867.4L702 867.1L703.5 866.8L705.1 866.5L706.6 866.2L708.1 865.9L709.7 865.6L711.2 865.3L712.7 865L714.3 864.7L715.8 864.3L717.3 864L718.9 863.7L720.4 863.5L722 863.2L723.5 862.9L725 862.6L726.5 862.4L727.9 862.1L729.4 861.9L730.8 861.7L732.3 861.4L733.8 861.2L735.3 861L737 860.8L738.7 860.5L740.5 860.3L741.8 860.1L743.2 860L744.6 859.8L746 859.7L747.5 859.5L748.9 859.4L750.5 859.2L752 859L753.6 858.9L755.2 858.7L756.8 858.6L758.4 858.4L760 858.3L761.7 858.1L763.3 858L765 857.8L766.4 857.7L767.8 857.5L769.3 857.4L770.7 857.3L772.2 857.1L773.6 857L775.1 856.9L776.6 856.7L778.1 856.6L779.6 856.5L781.2 856.3L782.7 856.2L784.3 856.1L785.8 855.9L787.4 855.8L789 855.7L790.6 855.5L792.3 855.4L793.9 855.2L795.3 855.1L796.8 854.9L798.3 854.8L799.7 854.6L801.2 854.5L802.8 854.3L804.3 854.2L805.8 854L807.4 853.9L808.9 853.7L810.5 853.5L812.1 853.4L813.6 853.2L815.2 853.1L816.8 852.9L818.3 852.8L819.9 852.6L821.5 852.5L823 852.3L824.6 852.2L826.2 852L827.7 851.9L829.2 851.8L830.8 851.6L832.3 851.5L833.9 851.4L835.4 851.3L836.9 851.2L838.5 851.1L840 851L841.6 850.9L843.1 850.8L844.6 850.7L846.2 850.6L847.7 850.4L849.3 850.3L850.8 850.2L852.4 850.1L853.9 850L855.4 849.9L857 849.7L858.5 849.6L860.1 849.5L861.6 849.3L863.2 849.1L864.7 849L866.3 848.8L867.9 848.6L869.6 848.4L871.2 848.2L872.9 848L874.5 847.8L876.1 847.6L877.8 847.4L879.4 847.2L881 847L882.6 846.8L884.2 846.6L885.7 846.4L887.2 846.2L888.7 846L890.2 845.8L891.6 845.6L892.9 845.4L894.2 845.3L895.5 845.1L897.5 844.8L899.5 844.6L901.3 844.3L903.1 844.1L904.8 843.9L906.4 843.7L908 843.5L909.4 843.3L910.8 843.1L912.2 842.9L913.4 842.8L914.6 842.6L915.8 842.5L918.1 842.3L919.9 842.1L921.5 842.1L922.8 842L924 842L925 842L927.4 842.5L928 843.7L928 846L927.8 846.8L927.6 847.3L927.2 848L926.9 849.3L926.4 851.5L926 855L925.9 856L925.8 857.1L925.7 858.4L925.6 859.8L925.4 861.2L925.3 862.8L925.2 864.4L925.1 866.1L924.9 867.9L924.8 869.7L924.6 871.5L924.5 873.4L924.4 875.3L924.2 877.2L924.1 879L924 880.9L923.8 882.8L923.7 884.6L923.6 886.3L923.4 888L923.3 889.6L923.2 891.2L923.1 892.6L923 894L922.9 895.2L922.8 896.4L922.8 897.4L922.7 898.2" fill="none" stroke="#5b9bd5" stroke-width="1.7" stroke-linejoin="round" stroke-linecap="round"/>
<path d="M90.9 757.9C91 773.2 91.2 818 91.5 850C91.8 882 92.1 918.4 92.5 950C92.9 981.6 93.2 1021 93.7 1039.7C94.2 1058.4 94.7 1056.6 95.5 1062C96.3 1067.4 97.3 1071.2 98.4 1072.2C99.5 1073.2 100.4 1072.5 102 1068C103.6 1063.5 106.4 1054.1 108.2 1045.5C110 1036.9 111.5 1027.2 112.9 1016.5C114.3 1005.9 115.5 989.4 116.4 981.6C117.3 973.9 117.2 976.8 118.1 970C118.9 963.2 120 949.4 121.5 941.1C123 932.8 125.6 925 126.8 920C128 915 127.9 914.2 128.9 911.4C130 908.5 131.7 905.6 133.1 902.9C134.5 900.2 135.8 897.7 137.3 895.3C138.9 892.9 140.7 890.6 142.4 888.5C144.1 886.4 145.5 884.8 147.5 882.6C149.5 880.4 151.8 877.8 154.3 875.4C156.8 873 159.9 870.5 162.7 868.5C165.5 866.5 168.3 865 171.2 863.4C174.1 861.8 175.2 861.1 180 859C184.8 856.9 193.3 853.6 200 851C206.7 848.4 211.7 846.1 220 843.1C228.3 840.1 240 835.8 250 832.9C260 830 272.5 827.8 280 826C287.5 824.2 286.9 824.2 295 822.2C303.1 820.2 317.6 816.2 328.9 813.7C340.2 811.2 351.4 808.9 362.7 806.9C374 804.9 385.3 803.4 396.6 801.9C407.9 800.4 421.6 798.5 430.5 797.6C439.4 796.7 441.1 797.1 450 796.2C458.9 795.3 472.6 793.4 483.9 792.2C495.2 791 508.4 789.6 517.7 788.8C527.1 788 529.9 788.1 540 787.4C550.1 786.7 565.4 785.6 578.1 784.8C590.8 783.9 603.5 783 616.2 782.3C628.9 781.6 641.6 781.2 654.3 780.8C667 780.4 681.4 780.1 692.4 780C703.4 779.9 708.7 779.8 720 779.9C731.3 780 747.7 780.3 760 780.5C772.3 780.7 782.6 780.8 793.9 781.2C805.2 781.6 816.4 781.9 827.7 782.9C839 783.9 853.1 785.7 861.6 787.1C870.1 788.5 873.4 789.6 878.5 791.3C883.6 793 888.1 795 892.1 797.3C896.1 799.6 899.4 802.4 902.2 804.9C905 807.4 907 809.3 909 812.5C911 815.7 912.7 820.1 914.1 824.3C915.5 828.5 916.6 833.3 917.5 837.9C918.4 842.5 918.9 847.6 919.5 851.9C920.1 856.2 920.9 861.8 921.2 863.8" fill="none" stroke="#000000" stroke-width="1.7" stroke-linejoin="round" stroke-linecap="round"/>
<path d="M90.9 757.9C91 773.2 91.2 818 91.5 850C91.8 882 92.1 918.4 92.5 950C92.9 981.6 93.2 1021 93.7 1039.7C94.2 1058.4 94.7 1056.6 95.5 1062C96.3 1067.4 97.3 1071.2 98.4 1072.2C99.5 1073.2 100.4 1072.5 102 1068C103.6 1063.5 106.4 1054.1 108.2 1045.5C110 1036.9 111.5 1027.2 112.9 1016.6C114.3 1006 115.5 989.5 116.4 981.8C117.3 974.1 117.2 977 118.1 970.2C118.9 963.5 120 949.7 121.5 941.4C123 933.2 125.6 925.4 126.8 920.5C128 915.6 127.9 914.8 128.9 912C130 909.1 131.7 906.2 133.1 903.6C134.5 901 135.8 898.5 137.3 896.1C138.9 893.8 140.7 891.5 142.4 889.5C144.1 887.4 145.5 885.9 147.5 883.7C149.5 881.6 151.8 878.9 154.3 876.6C156.8 874.3 159.9 871.7 162.7 869.7C165.5 867.7 168.3 866.2 171.2 864.6C174.1 863 175.2 862.3 180 860.2C184.8 858.1 193.3 854.9 200 852.2C206.7 849.6 211.7 847.3 220 844.3C228.3 841.3 240 837 250 834.1C260 831.2 272.5 829 280 827.2C287.5 825.4 286.9 825.5 295 823.4C303.1 821.4 317.6 817.5 328.9 814.9C340.2 812.4 351.4 810.1 362.7 808.1C374 806.1 385.3 804.6 396.6 803.1C407.9 801.6 421.6 799.8 430.5 798.8C439.4 797.9 441.1 798.3 450 797.4C458.9 796.5 472.6 794.8 483.9 793.6C495.2 792.4 508.4 791.2 517.7 790.4C527.1 789.7 529.9 789.8 540 789.1C550.1 788.5 565.4 787.4 578.1 786.6C590.8 785.8 603.5 784.8 616.2 784.1C628.9 783.4 641.6 783 654.3 782.6C667 782.2 681.4 781.9 692.4 781.8C703.4 781.6 708.7 781.6 720 781.7C731.3 781.8 747.7 782.1 760 782.3C772.3 782.5 782.6 782.6 793.9 783C805.2 783.4 816.4 783.7 827.7 784.7C839 785.7 853.1 787.5 861.6 788.9C870.1 790.3 873.4 791.5 878.5 793.1C883.6 794.7 888.1 796.4 892.1 798.5C896.1 800.6 899.4 803.2 902.2 805.6C905 807.9 907 809.7 909 812.8C911 815.9 912.7 820.2 914.1 824.3C915.5 828.5 916.6 833.3 917.5 837.9C918.4 842.5 918.9 847.6 919.5 851.9C920.1 856.2 920.9 861.8 921.2 863.8" fill="none" stroke="#000000" stroke-width="1.7" stroke-linejoin="round" stroke-linecap="round"/>
<path d="M90.9 757.9L91 758.8L91 759.9L91.1 761.2L91.2 762.7L91.3 764.3L91.4 766L91.5 767.8L91.6 769.6L91.7 771.4L91.9 773.2L92 775L92.1 776.4L92.2 778L92.3 779.6L92.4 781.3L92.5 783L92.6 784.7L92.7 786.4L92.8 788.1L92.9 789.7L93 791.3L93.2 792.8L93.3 794.1L93.5 795.3L93.7 796.3L94.5 798.7L95.5 799.9L96.6 800.5L97.7 801.1L99.2 801.6L100.8 801.7L102.5 802.7L103.2 803.6L103.9 804.7L104.6 806.1L105.3 807.5L106.3 809L107.4 810.6L108.8 812.2L109.7 813.1L110.8 814.1L112 815.1L113.3 816.1L114.6 817.2L116 818.3L117.4 819.4L118.8 820.5L120.2 821.5L121.5 822.4L122.7 823.4L123.8 824.2L124.7 824.9L126.6 826.4L128.1 827.4L129.2 828.2L130.3 828.9L131.4 829.6L132.9 830.5L134.2 831.3L135.7 832.1L137.3 833L138.6 833.7L139.9 834.5L141.4 835.3L142.9 836.2L144.4 837L145.8 837.8L147.2 838.6L148.6 839.4L150.1 840.2L151.5 841L152.9 841.7L154.3 842.5L155.7 843.2L157.1 843.9L158.5 844.6L159.9 845.3L161.3 846L162.7 846.7L164.1 847.4L165.5 848L166.9 848.7L168.3 849.4L169.8 850L171.2 850.6L172.6 851.2L174.1 851.7L175.5 852.2L177 852.7L178.5 853.2L180 853.8L181.3 854.3L182.5 854.7L183.8 855.1L185.1 855.6L186.5 856.1L188.2 856.7L190 857.5L191.1 858L192.3 858.5L193.6 859.1L194.9 859.8L196.3 860.4L197.7 861.1L199.1 861.8L200.6 862.5L202.1 863.2L203.5 863.9L204.9 864.5L206.3 865.1L207.7 865.7L209.3 866.3L210.8 866.9L212.4 867.5L213.9 868L215.5 868.5L217 869L218.6 869.5L220.1 870L221.6 870.6L223.2 871.1L224.7 871.5L226.2 872L227.8 872.5L229.3 873L230.9 873.6L232.4 874.2L233.9 874.8L235.5 875.5L237 876.2L238.5 876.9L240.1 877.5L241.6 878L243.1 878.5L244.7 878.9L246.2 879.2L247.7 879.5L249.3 879.9L250.8 880.3L252.3 880.8L253.9 881.4L255.4 882.1L257 882.8L258.5 883.5L260.1 884.3L261.7 885L263.3 885.7L264.9 886.3L266.5 886.7L268.1 887.1L269.7 887.4L271.2 887.8L272.7 888.1L274.1 888.5L275.5 888.9L277.3 889.5L278.9 890.2L280.5 891L282 891.8L283.4 892.5L284.8 893.2L286.1 893.8L287.3 894.3L289 894.9L290.2 895.3L291.5 895.5L292.9 895.8L295 896.2L296.2 896.4L297.6 896.7L299.2 897.1L300.8 897.7L302.5 898.3L304.3 899.1L306 899.9L307.6 900.7L309.2 901.3L310.6 901.9L311.9 902.3L314 902.9L315.5 903.2L316.8 903.4L318.3 903.5L320.4 903.6L321.7 903.7L323.1 903.9L324.6 904.2L326.3 904.5L328 905L329.7 905.6L331.4 906.1L333.1 906.6L334.6 906.9L336 907.2L337.3 907.3L339.4 907.4L340.9 907.2L342.2 907L343.7 906.7L345.8 906.4L347 906.3L348.4 906.2L349.8 906.2L351.3 906.3L352.9 906.4L354.5 906.6L356.2 906.8L357.9 906.9L359.5 906.9L361.1 906.8L362.7 906.6L364.2 906.4L365.8 906L367.3 905.7L368.9 905.4L370.4 905.1L372 904.9L373.5 904.8L375.1 904.7L376.6 904.7L378.2 904.7L379.7 904.7L381.2 904.7L382.8 904.5L384.3 904.3L385.9 904L387.4 903.5L388.9 903L390.5 902.5L392 902L393.5 901.5L395.1 901.1L396.6 900.8L398.1 900.5L399.7 900.4L401.2 900.3L402.7 900.2L404.3 900.1L405.8 900L407.3 899.7L408.9 899.4L410.4 899L412 898.6L413.5 898L415 897.4L416.6 896.9L418.1 896.3L419.6 895.9L421.1 895.5L422.6 895.2L424.1 895L425.7 894.8L427.3 894.6L428.9 894.4L430.5 894.2L431.9 893.9L433.4 893.6L434.9 893.2L436.4 892.7L437.9 892.2L439.5 891.6L441 891.1L442.6 890.7L444.1 890.3L445.6 890L447.1 889.8L448.6 889.7L450 889.6L451.6 889.4L453.2 889.2L454.8 889L456.3 888.7L457.9 888.3L459.4 887.8L460.9 887.2L462.4 886.6L463.9 886.1L465.4 885.5L466.9 885L468.4 884.6L470 884.2L471.5 883.9L473.1 883.7L474.6 883.5L476.2 883.3L477.7 883L479.3 882.7L480.8 882.3L482.4 881.8L483.9 881.2L485.4 880.6L487 880L488.5 879.4L490.1 878.8L491.6 878.3L493.1 877.9L494.7 877.6L496.2 877.3L497.7 877.1L499.3 877L500.8 876.7L502.3 876.5L503.9 876.1L505.4 875.6L506.9 875.1L508.5 874.5L510 873.8L511.5 873.2L513.1 872.6L514.6 872.1L516.2 871.6L517.7 871.3L519.2 871.1L520.8 870.9L522.3 870.8L523.9 870.7L525.4 870.6L527 870.5L528.5 870.2L530.1 869.9L531.6 869.5L533.2 869L534.7 868.4L536.2 867.9L537.8 867.4L539.3 867L540.9 866.6L542.4 866.4L543.9 866.2L545.5 866.1L547 865.9L548.5 865.8L550.1 865.7L551.6 865.4L553.1 865.1L554.7 864.8L556.2 864.3L557.7 863.9L559.3 863.4L560.8 862.9L562.3 862.6L563.9 862.2L565.4 862L567 861.8L568.5 861.8L570 861.7L571.6 861.6L573.1 861.5L574.6 861.4L576.1 861.2L577.6 860.9L579.1 860.5L580.7 860L582.3 859.5L583.9 859L585.5 858.6L586.9 858.3L588.4 858L589.9 857.8L591.4 857.7L592.9 857.7L594.5 857.7L596 857.7L597.6 857.6L599.1 857.5L600.6 857.4L602.1 857.1L603.6 856.8L605 856.5L606.6 856.1L608.2 855.7L609.8 855.4L611.3 855.2L612.9 855.1L614.4 855.1L615.9 855.1L617.4 855.2L618.9 855.3L620.4 855.4L621.9 855.4L623.4 855.4L625 855.3L626.5 855L628.1 854.7L629.6 854.4L631.2 854L632.7 853.7L634.3 853.4L635.8 853.2L637.4 853.1L638.9 853L640.4 853.1L642 853.1L643.5 853.1L645.1 853.1L646.6 853L648.1 852.9L649.7 852.7L651.2 852.5L652.7 852.3L654.3 852.1L655.8 851.9L657.3 851.7L658.9 851.5L660.4 851.4L661.9 851.2L663.5 851L665 850.8L666.5 850.5L668.1 850.3L669.6 850.1L671.2 849.9L672.7 849.7L674.2 849.5L675.8 849.3L677.3 849.1L678.9 848.8L680.4 848.6L682 848.4L683.5 848.2L685.1 848L686.6 847.7L688.2 847.5L689.7 847.3L691.2 847.1L692.8 846.9L694.3 846.7L695.9 846.5L697.4 846.3L698.9 846.1L700.5 845.9L702 845.7L703.5 845.5L705.1 845.3L706.6 845L708.1 844.7L709.7 844.5L711.2 844.2L712.7 843.9L714.3 843.5L715.8 843.2L717.3 842.9L718.9 842.6L720.4 842.2L722 841.9L723.5 841.6L725 841.3L726.6 841L728.1 840.7L729.6 840.3L731.1 840L732.6 839.7L734.1 839.4L735.7 839L737.3 838.7L738.9 838.4L740.5 838L741.9 837.7L743.2 837.4L744.5 837.1L745.8 836.8L747.2 836.5L748.5 836.2L749.9 835.9L751.3 835.6L752.9 835.2L754.5 834.9L756.2 834.5L758 834.1L760 833.7L761.2 833.5L762.4 833.2L763.7 832.9L765 832.6L766.4 832.3L767.8 832L769.3 831.7L770.7 831.4L772.2 831.1L773.7 830.8L775.3 830.5L776.8 830.1L778.4 829.8L780 829.5L781.5 829.2L783.1 828.9L784.7 828.6L786.3 828.3L787.8 828L789.4 827.7L790.9 827.4L792.4 827.1L793.9 826.9L795.4 826.7L797 826.4L798.5 826.2L800.1 826L801.6 825.7L803.1 825.5L804.7 825.3L806.2 825.1L807.7 824.9L809.3 824.7L810.8 824.5L812.3 824.3L813.9 824.2L815.4 824L816.9 823.8L818.5 823.6L820 823.5L821.5 823.3L823.1 823.1L824.6 822.9L826.2 822.8L827.7 822.6L829.2 822.4L830.8 822.3L832.3 822.1L833.9 821.9L835.4 821.8L836.9 821.6L838.5 821.5L840 821.3L841.6 821.2L843.1 821L844.6 820.9L846.2 820.8L847.7 820.6L849.3 820.5L850.8 820.3L852.4 820.2L853.9 820L855.4 819.9L857 819.7L858.5 819.6L860.1 819.5L861.6 819.3L863.2 819.1L864.7 819L866.3 818.8L867.9 818.7L869.5 818.5L871.1 818.4L872.7 818.2L874.3 818L875.9 817.9L877.5 817.7L879.1 817.6L880.7 817.4L882.3 817.2L883.9 817.1L885.4 816.9L886.9 816.8L888.4 816.6L889.9 816.5L891.4 816.3L892.8 816.2L894.2 816L895.5 815.9L897.3 815.7L899.1 815.5L901 815.3L902.8 815.1L904.5 814.9L906.3 814.7L907.9 814.6L909.6 814.4L911.2 814.2L912.7 814L914.1 813.9L915.5 813.7L916.8 813.6L918 813.5L919 813.4L920 813.3L923 813L923.9 812.9L924.6 813.5L925.7 814.5L926.8 816L927.7 817.6L928.3 819.2L928.4 820.6L928.2 821.9L927.8 823.5L927.4 825.7L927.3 826.8L927.1 828L927 829.3L926.8 830.7L926.7 832.1L926.5 833.6L926.3 835.3L926 837L925.8 838.7L925.5 840.6L925.3 842L925 843.5L924.7 845.1L924.4 846.8L924.1 848.6L923.7 850.4L923.4 852.2L923.1 854L922.7 855.8L922.4 857.5L922.1 859.1L921.8 860.5L921.6 861.8L921.4 862.9L921.2 863.8" fill="none" stroke="#000000" stroke-width="1.7" stroke-linejoin="round" stroke-linecap="round"/>
<path d="M90.9 757.9L91 758.8L91 759.9L91.1 761.2L91.2 762.7L91.3 764.3L91.4 766L91.5 767.8L91.6 769.6L91.7 771.4L91.9 773.2L92 775L92.1 776.4L92.2 778L92.3 779.6L92.4 781.3L92.5 783L92.6 784.7L92.7 786.4L92.8 788.1L92.9 789.7L93 791.3L93.2 792.8L93.3 794.1L93.5 795.3L93.7 796.3L94.5 798.7L95.5 799.9L96.6 800.5L97.7 801.1L99.2 801.6L100.8 801.8L102.5 802.8L103.2 803.8L103.9 804.9L104.6 806.3L105.3 807.7L106.3 809.3L107.4 810.9L108.8 812.6L109.7 813.5L110.8 814.5L112 815.6L113.3 816.7L114.6 817.9L116 819L117.4 820.2L118.8 821.3L120.2 822.4L121.5 823.4L122.7 824.4L123.8 825.2L124.7 826L126.6 827.6L128.1 828.7L129.2 829.5L130.3 830.2L131.4 831L132.9 832L134.2 832.9L135.7 833.7L137.3 834.7L138.6 835.4L139.9 836.2L141.4 837.1L142.9 837.9L144.4 838.8L145.8 839.6L147.2 840.4L148.6 841.2L150.1 842L151.5 842.8L152.9 843.5L154.3 844.3L155.7 845L157.1 845.7L158.5 846.4L159.9 847.1L161.3 847.8L162.7 848.5L164.1 849.2L165.5 849.8L166.9 850.5L168.3 851.2L169.8 851.8L171.2 852.4L172.6 853L174.1 853.5L175.5 854L177 854.5L178.5 855L180 855.6L181.3 856.1L182.5 856.5L183.8 856.9L185.1 857.4L186.5 857.9L188.2 858.5L190 859.3L191.1 859.8L192.3 860.3L193.6 860.9L194.9 861.6L196.3 862.2L197.7 862.9L199.1 863.6L200.6 864.3L202.1 865L203.5 865.7L204.9 866.3L206.3 866.9L207.7 867.5L209.3 868.1L210.8 868.7L212.4 869.3L213.9 869.8L215.5 870.3L217 870.8L218.6 871.3L220.1 871.8L221.6 872.4L223.2 872.9L224.7 873.3L226.2 873.8L227.8 874.3L229.3 874.8L230.9 875.4L232.4 876L233.9 876.6L235.5 877.3L237 878L238.5 878.7L240.1 879.3L241.6 879.8L243.1 880.3L244.7 880.7L246.2 881L247.7 881.3L249.3 881.7L250.8 882.1L252.3 882.6L253.9 883.2L255.4 883.9L257 884.6L258.5 885.3L260.1 886.1L261.7 886.8L263.3 887.5L264.9 888.1L266.5 888.5L268.1 888.9L269.7 889.2L271.2 889.6L272.7 889.9L274.1 890.3L275.5 890.7L277.3 891.3L278.9 892L280.5 892.8L282 893.6L283.4 894.3L284.8 895L286.1 895.6L287.3 896.1L289 896.7L290.2 897.1L291.5 897.3L292.9 897.6L295 898L296.2 898.2L297.6 898.5L299.2 898.9L300.8 899.5L302.5 900.1L304.3 900.9L306 901.7L307.6 902.5L309.2 903.1L310.6 903.7L311.9 904.1L314 904.7L315.5 905L316.8 905.2L318.3 905.3L320.4 905.4L321.7 905.5L323.1 905.7L324.6 906L326.3 906.3L328 906.8L329.7 907.4L331.4 907.9L333.1 908.4L334.6 908.7L336 909L337.3 909.1L339.4 909.2L340.9 909L342.2 908.8L343.7 908.5L345.8 908.2L347 908.1L348.4 908L349.8 908L351.3 908.1L352.9 908.2L354.5 908.4L356.2 908.6L357.9 908.7L359.5 908.7L361.1 908.6L362.7 908.4L364.2 908.2L365.8 907.8L367.3 907.5L368.9 907.2L370.4 906.9L372 906.7L373.5 906.6L375.1 906.5L376.6 906.5L378.2 906.5L379.7 906.5L381.2 906.5L382.8 906.3L384.3 906.1L385.9 905.8L387.4 905.3L388.9 904.8L390.5 904.3L392 903.8L393.5 903.3L395.1 902.9L396.6 902.6L398.1 902.3L399.7 902.2L401.2 902.1L402.7 902L404.3 901.9L405.8 901.8L407.3 901.5L408.9 901.2L410.4 900.8L412 900.4L413.5 899.8L415 899.2L416.6 898.7L418.1 898.1L419.6 897.6L421.1 897.3L422.6 896.9L424.1 896.7L425.7 896.5L427.3 896.3L428.9 896.1L430.5 895.8L431.9 895.6L433.4 895.2L434.9 894.8L436.4 894.3L437.9 893.7L439.5 893.2L441 892.6L442.6 892.2L444.1 891.8L445.6 891.5L447.1 891.3L448.6 891.1L450 890.9L451.6 890.8L453.2 890.6L454.8 890.3L456.3 890L457.9 889.5L459.4 889L460.9 888.5L462.4 887.9L463.9 887.3L465.4 886.7L466.9 886.1L468.4 885.7L470 885.3L471.5 885L473.1 884.8L474.6 884.5L476.2 884.3L477.7 884L479.3 883.7L480.8 883.2L482.4 882.7L483.9 882.1L485.4 881.5L487 880.9L488.5 880.2L490.1 879.6L491.6 879.1L493.1 878.7L494.7 878.4L496.2 878.1L497.7 877.9L499.3 877.7L500.8 877.4L502.3 877.2L503.9 876.8L505.4 876.3L506.9 875.8L508.5 875.2L510 874.5L511.5 873.9L513.1 873.3L514.6 872.8L516.2 872.3L517.7 872L519.2 871.8L520.8 871.6L522.3 871.5L523.9 871.4L525.4 871.3L527 871.2L528.5 870.9L530.1 870.6L531.6 870.2L533.2 869.7L534.7 869.1L536.2 868.6L537.8 868.1L539.3 867.7L540.9 867.3L542.4 867.1L543.9 866.9L545.5 866.8L547 866.6L548.5 866.5L550.1 866.4L551.6 866.1L553.1 865.8L554.7 865.5L556.2 865L557.7 864.6L559.3 864.1L560.8 863.6L562.3 863.3L563.9 862.9L565.4 862.7L567 862.5L568.5 862.5L570 862.4L571.6 862.3L573.1 862.2L574.6 862.1L576.1 861.9L577.6 861.6L579.1 861.2L580.7 860.7L582.3 860.2L583.9 859.7L585.5 859.3L586.9 859L588.4 858.7L589.9 858.5L591.4 858.4L592.9 858.4L594.5 858.4L596 858.4L597.6 858.3L599.1 858.2L600.6 858.1L602.1 857.8L603.6 857.5L605 857.2L606.6 856.8L608.2 856.4L609.8 856.1L611.3 855.9L612.9 855.8L614.4 855.8L615.9 855.8L617.4 855.9L618.9 856L620.4 856.1L621.9 856.1L623.4 856.1L625 856L626.5 855.7L628.1 855.4L629.6 855.1L631.2 854.7L632.7 854.4L634.3 854.1L635.8 853.9L637.4 853.8L638.9 853.7L640.4 853.8L642 853.8L643.5 853.8L645.1 853.8L646.6 853.7L648.1 853.6L649.7 853.4L651.2 853.2L652.7 853L654.3 852.8L655.8 852.6L657.3 852.4L658.9 852.2L660.4 852.1L661.9 851.9L663.5 851.7L665 851.5L666.5 851.2L668.1 851L669.6 850.8L671.2 850.6L672.7 850.4L674.2 850.2L675.8 850L677.3 849.8L678.9 849.5L680.4 849.3L682 849.1L683.5 848.9L685.1 848.6L686.6 848.4L688.2 848.2L689.7 848L691.2 847.8L692.8 847.6L694.3 847.4L695.9 847.2L697.4 847L698.9 846.8L700.5 846.6L702 846.4L703.5 846.2L705.1 846L706.6 845.8L708.1 845.5L709.7 845.2L711.2 844.9L712.7 844.6L714.3 844.3L715.8 844L717.3 843.7L718.9 843.4L720.4 843.1L722 842.8L723.5 842.5L725 842.2L726.6 841.9L728.1 841.6L729.6 841.3L731.1 841L732.6 840.7L734.1 840.3L735.7 840L737.3 839.7L738.9 839.4L740.5 839L741.9 838.7L743.2 838.4L744.5 838.2L745.8 837.9L747.2 837.6L748.5 837.3L749.9 837L751.3 836.7L752.9 836.4L754.5 836L756.2 835.7L758 835.3L760 834.9L761.2 834.6L762.4 834.4L763.7 834.1L765 833.9L766.4 833.6L767.8 833.3L769.3 833L770.7 832.7L772.2 832.4L773.7 832.1L775.3 831.8L776.8 831.5L778.4 831.2L780 830.9L781.5 830.5L783.1 830.2L784.7 830L786.3 829.7L787.8 829.4L789.4 829.1L790.9 828.8L792.4 828.6L793.9 828.4L795.4 828.1L797 827.9L798.5 827.6L800.1 827.4L801.6 827.2L803.1 827L804.7 826.8L806.2 826.6L807.7 826.4L809.3 826.2L810.8 826L812.3 825.8L813.9 825.7L815.4 825.5L816.9 825.3L818.5 825.1L820 825L821.5 824.8L823.1 824.6L824.6 824.4L826.2 824.3L827.7 824.1L829.2 823.9L830.8 823.8L832.3 823.6L833.9 823.5L835.4 823.3L836.9 823.1L838.5 823L840 822.9L841.6 822.7L843.1 822.6L844.6 822.4L846.2 822.3L847.7 822.2L849.3 822L850.8 821.9L852.4 821.7L853.9 821.6L855.4 821.4L857 821.3L858.5 821.1L860.1 821L861.6 820.8L863.2 820.6L864.7 820.5L866.3 820.3L867.9 820.1L869.5 819.9L871.1 819.8L872.7 819.6L874.3 819.4L875.9 819.2L877.5 819L879.1 818.8L880.7 818.6L882.3 818.4L883.9 818.3L885.4 818.1L886.9 817.9L888.4 817.7L889.9 817.5L891.4 817.3L892.8 817.2L894.2 817L895.5 816.8L897.3 816.6L899.1 816.3L901 816.1L902.8 815.8L904.5 815.6L906.3 815.3L907.9 815L909.6 814.8L911.2 814.6L912.7 814.3L914.1 814.1L915.5 813.9L916.8 813.7L918 813.6L919 813.4L920 813.3L923 812.9L923.9 812.9L924.6 813.5L925.7 814.5L926.8 816L927.7 817.6L928.3 819.2L928.4 820.6L928.2 821.9L927.8 823.5L927.4 825.7L927.3 826.8L927.1 828L927 829.3L926.8 830.7L926.7 832.1L926.5 833.6L926.3 835.3L926 837L925.8 838.7L925.5 840.6L925.3 842L925 843.5L924.7 845.1L924.4 846.8L924.1 848.6L923.7 850.4L923.4 852.2L923.1 854L922.7 855.8L922.4 857.5L922.1 859.1L921.8 860.5L921.6 861.8L921.4 862.9L921.2 863.8" fill="none" stroke="#000000" stroke-width="1.7" stroke-linejoin="round" stroke-linecap="round"/>
<path d="M90.9 732.3C91 751.9 91.3 800.7 91.5 850C91.7 899.3 91.9 990.5 92.2 1028C92.5 1065.5 93 1064.7 93.5 1075C94 1085.3 94.5 1088.4 95.2 1089.6C96 1090.8 96.8 1086.5 98 1082C99.2 1077.5 100.7 1071.9 102.4 1062.9C104.1 1053.9 106.5 1039.6 108.2 1028C110 1016.4 111.7 1002.9 112.9 993.2C114.1 983.5 114.3 978.7 115.2 970C116.1 961.3 117.2 949.4 118.3 941.1C119.4 932.8 121 925.4 122 920C123 914.6 123.4 912.4 124.6 908.9C125.8 905.4 127.5 901.8 128.9 898.7C130.3 895.6 131.7 892.9 133.1 890.2C134.5 887.5 135.9 885 137.3 882.6C138.7 880.2 140.2 878.1 141.6 875.8C143 873.5 143.7 871.2 145.8 868.6C147.9 866 151.5 862.5 154.3 860C157.1 857.5 159.4 855.6 162.7 853.4C166 851.2 169.2 849.6 173.9 847C178.6 844.4 185.2 840.3 190.8 837.5C196.4 834.7 202.8 832.2 207.7 830.4C212.6 828.6 215.4 828 220 826.6C224.6 825.2 230 823.4 235 821.8C240 820.2 245 818.8 250 817.1C255 815.4 260 813.5 265 811.8C270 810.1 275 808.5 280 806.9C285 805.3 288.3 804.1 295 802.3C301.7 800.5 311.8 798 320 796C328.2 794 332.7 792.7 344.1 790.3C355.6 787.9 372.4 784.3 388.7 781.5C404.9 778.7 425.7 775.8 441.6 773.5C457.5 771.2 471.2 769.1 483.9 767.6C496.6 766.1 508.4 765 517.7 764.2C527.1 763.4 529.9 763.8 540 762.9C550.1 762 565.4 760.1 578.1 759C590.8 757.9 603.5 756.9 616.2 756.2C628.9 755.5 641.6 755.1 654.3 754.7C667 754.3 681.4 753.9 692.4 753.7C703.4 753.5 709.1 753.6 720 753.6C730.9 753.6 743.4 753.4 757.6 753.8C771.8 754.2 792.1 755.2 805.2 756.2C818.3 757.2 826.8 758.1 836.2 759.5C845.6 760.9 854 762.8 861.6 764.5C869.2 766.2 875.9 767.3 882 770C888.1 772.7 893.9 777.2 898.4 780.8C902.9 784.4 906.3 787.2 909.2 791.7C912.1 796.2 914.1 802.6 915.7 808C917.3 813.4 918.3 818.8 919 824.2C919.7 829.6 919.8 835.9 920.1 840.5C920.4 845.1 920.7 849.8 920.8 851.7" fill="none" stroke="#ed7d31" stroke-width="1.7" stroke-linejoin="round" stroke-linecap="round"/>
<path d="M90.9 732.3L91 733.2L91.2 734.5L91.3 735.9L91.5 737.5L91.7 739.3L92 741.2L92.2 743.1L92.5 745L92.7 746.4L92.9 747.9L93.1 749.5L93.3 751.2L93.6 752.9L93.8 754.6L94.1 756.3L94.3 757.9L94.6 759.4L94.8 760.8L95.1 762L95.3 763L96.6 765.6L98 766L99.4 766.4L100.9 767L101.9 768L102.8 769.3L104 771L104.6 772L105.1 773.2L105.6 774.4L106.3 775.8L107.3 777.3L108.8 778.9L109.7 779.7L110.6 780.6L111.7 781.6L112.9 782.6L114.1 783.7L115.4 784.8L116.8 785.8L118.1 786.9L119.5 787.9L120.8 788.9L122.2 789.9L123.5 790.8L124.7 791.6L126.1 792.5L127.5 793.3L128.9 794L130.2 794.6L131.6 795.3L133 795.9L134.3 796.4L135.7 797L137.1 797.6L138.6 798.2L140 798.9L141.4 799.5L142.7 800.2L144.1 800.8L145.5 801.4L146.9 802.1L148.3 802.7L149.8 803.4L151.2 804L152.6 804.7L154.1 805.3L155.5 806L156.9 806.6L158.3 807.2L159.7 807.9L161.1 808.5L162.6 809.2L164 809.8L165.4 810.4L166.8 811.1L168.2 811.7L169.7 812.3L171.1 813L172.5 813.6L173.9 814.2L175.3 814.8L176.7 815.4L178.1 816L179.5 816.6L180.9 817.3L182.4 817.9L183.8 818.5L185.2 819.1L186.6 819.7L188 820.3L189.4 820.9L190.8 821.5L192.2 822.1L193.6 822.7L195 823.4L196.4 824L197.8 824.6L199.2 825.3L200.7 825.9L202.1 826.5L203.5 827.2L204.9 827.8L206.3 828.4L207.7 829L209.1 829.6L210.5 830.2L211.9 830.8L213.4 831.4L214.8 831.9L216.2 832.5L217.6 833.1L219 833.6L220.5 834.2L221.9 834.7L223.3 835.3L224.7 835.8L226.2 836.4L227.8 836.9L229.3 837.4L230.9 837.9L232.4 838.4L233.9 838.9L235.5 839.4L237 839.9L238.5 840.4L240.1 840.9L241.6 841.5L243 842L244.4 842.6L245.8 843.1L247.2 843.7L248.6 844.3L250 844.9L251.5 845.4L252.9 846L254.3 846.6L255.7 847.1L257.1 847.7L258.5 848.3L259.9 848.9L261.3 849.6L262.7 850.2L264.2 850.9L265.6 851.6L267 852.2L268.4 852.8L269.8 853.4L271.3 853.8L272.7 854.3L274.1 854.6L275.5 855L276.9 855.4L278.3 855.9L279.7 856.4L281 857L282.4 857.7L283.8 858.4L285.2 859.1L286.6 859.9L288 860.6L289.4 861.2L290.9 861.8L292.4 862.3L293.8 862.7L295.3 863.1L296.8 863.3L298.3 863.6L299.8 863.9L301.4 864.2L302.9 864.7L304.5 865.1L306 865.7L307.5 866.3L309 867L310.5 867.6L311.9 868.2L313.5 868.9L315.1 869.4L316.7 869.9L318.3 870.2L319.8 870.5L321.3 870.7L322.8 870.9L324.3 871.2L325.8 871.4L327.4 871.7L328.9 872.1L330.4 872.5L332 873L333.5 873.4L335.1 873.9L336.6 874.2L338.1 874.5L339.7 874.7L341.2 874.8L342.7 874.8L344.3 874.7L345.8 874.6L347.3 874.6L348.9 874.5L350.4 874.5L351.9 874.6L353.5 874.8L355 875L356.5 875.3L358.1 875.5L359.6 875.8L361.2 876L362.7 876L364.2 876L365.8 875.9L367.3 875.7L368.9 875.4L370.4 875.1L372 874.9L373.5 874.6L375.1 874.5L376.6 874.4L378.2 874.4L379.7 874.5L381.2 874.6L382.8 874.7L384.3 874.7L385.9 874.7L387.4 874.6L388.9 874.4L390.5 874.2L392 873.8L393.5 873.4L395.1 873L396.6 872.6L398.1 872.2L399.7 871.9L401.2 871.7L402.7 871.5L404.3 871.4L405.8 871.3L407.3 871.2L408.9 871L410.4 870.8L412 870.5L413.5 870.1L415 869.6L416.6 869.1L418.1 868.6L419.6 868.1L421.1 867.6L422.6 867.2L424.1 866.9L425.7 866.7L427.3 866.5L428.9 866.4L430.5 866.4L431.9 866.3L433.4 866.2L434.9 866L436.4 865.7L437.9 865.4L439.5 864.9L441 864.5L442.6 864L444.1 863.6L445.6 863.2L447.1 862.9L448.6 862.6L450 862.5L451.6 862.4L453.2 862.3L454.8 862.2L456.3 862.1L457.9 862L459.4 861.7L460.9 861.4L462.4 860.9L463.9 860.4L465.4 859.9L466.9 859.3L468.4 858.7L470 858.2L471.5 857.7L473.1 857.3L474.6 857L476.2 856.7L477.7 856.5L479.3 856.2L480.8 855.9L482.4 855.6L483.9 855.1L485.4 854.6L487 854.1L488.5 853.5L490.1 852.8L491.6 852.2L493.1 851.7L494.7 851.2L496.2 850.8L497.7 850.5L499.3 850.3L500.8 850.1L502.3 850L503.9 849.8L505.4 849.6L506.9 849.4L508.5 849L510 848.6L511.5 848.1L513.1 847.6L514.6 847L516.2 846.5L517.7 846.1L519.2 845.7L520.8 845.5L522.3 845.3L523.9 845.2L525.4 845.2L527 845.1L528.5 845L530.1 844.9L531.6 844.6L533.2 844.2L534.7 843.7L536.2 843.2L537.8 842.6L539.3 842L540.9 841.5L542.4 841L543.9 840.6L545.5 840.3L547 840L548.5 839.8L550.1 839.7L551.6 839.5L553.1 839.3L554.7 839L556.2 838.7L557.7 838.3L559.3 837.8L560.8 837.2L562.3 836.7L563.9 836.2L565.4 835.7L567 835.3L568.5 835.1L570 834.9L571.6 834.8L573.1 834.7L574.6 834.7L576.1 834.6L577.6 834.5L579.1 834.3L580.7 834L582.3 833.7L583.9 833.2L585.5 832.8L586.9 832.4L588.4 832L589.9 831.7L591.4 831.4L592.9 831.2L594.5 831.2L596 831.1L597.6 831.2L599.1 831.2L600.6 831.2L602.1 831.1L603.6 831L605 830.8L606.6 830.5L608.2 830.2L609.8 829.9L611.3 829.6L612.9 829.4L614.4 829.2L615.9 829.2L617.4 829.2L618.9 829.3L620.4 829.4L621.9 829.5L623.4 829.6L625 829.6L626.5 829.5L628.1 829.3L629.6 829.1L631.2 828.8L632.7 828.4L634.3 828L635.8 827.6L637.4 827.3L638.9 827.2L640.4 827.1L642 827.1L643.5 827.2L645.1 827.3L646.6 827.5L648.1 827.6L649.7 827.7L651.2 827.7L652.7 827.6L654.3 827.4L655.8 827.1L657.3 826.8L658.9 826.4L660.4 826.1L661.9 825.8L663.5 825.6L665 825.5L666.5 825.5L668.1 825.5L669.6 825.6L671.2 825.6L672.7 825.6L674.2 825.6L675.8 825.4L677.3 825.2L678.9 824.9L680.4 824.6L682 824.3L683.5 824L685.1 823.8L686.6 823.6L688.2 823.5L689.7 823.3L691.2 823.2L692.8 823L694.3 822.7L695.9 822.4L697.4 822.1L698.9 821.7L700.5 821.3L702 821L703.5 820.7L705.1 820.4L706.6 820.1L708.1 819.8L709.7 819.6L711.2 819.4L712.7 819.2L714.3 819L715.8 818.7L717.3 818.5L718.9 818.3L720.4 818.1L722 817.9L723.5 817.6L725 817.3L726.5 817L727.9 816.8L729.4 816.5L730.8 816.2L732.3 815.9L733.8 815.5L735.3 815.2L737 814.9L738.7 814.5L740.5 814.2L741.8 814L743.2 813.7L744.6 813.5L746 813.2L747.5 812.9L748.9 812.7L750.5 812.4L752 812.2L753.6 811.9L755.2 811.6L756.8 811.3L758.4 811.1L760 810.8L761.7 810.5L763.3 810.3L765 810L766.4 809.8L767.8 809.6L769.3 809.3L770.7 809.1L772.2 808.9L773.6 808.7L775.1 808.5L776.6 808.2L778.1 808L779.6 807.8L781.2 807.6L782.7 807.3L784.3 807.1L785.8 806.9L787.4 806.7L789 806.4L790.6 806.2L792.3 805.9L793.9 805.7L795.3 805.5L796.8 805.3L798.3 805L799.7 804.8L801.2 804.6L802.8 804.3L804.3 804.1L805.8 803.9L807.4 803.6L808.9 803.4L810.5 803.1L812.1 802.9L813.6 802.7L815.2 802.4L816.8 802.2L818.3 801.9L819.9 801.7L821.5 801.5L823 801.3L824.6 801L826.2 800.8L827.7 800.6L829.2 800.4L830.8 800.2L832.3 800L833.9 799.8L835.4 799.6L836.9 799.3L838.5 799.1L840 798.9L841.6 798.7L843.1 798.5L844.6 798.3L846.2 798.1L847.7 798L849.3 797.8L850.8 797.6L852.4 797.4L853.9 797.2L855.4 797L857 796.9L858.5 796.7L860.1 796.6L861.6 796.4L863.2 796.3L864.7 796.1L866.3 796L867.9 795.9L869.5 795.7L871.1 795.6L872.7 795.5L874.3 795.4L875.9 795.3L877.5 795.2L879.1 795.1L880.7 795L882.3 794.9L883.9 794.8L885.4 794.7L886.9 794.6L888.4 794.5L889.9 794.4L891.4 794.3L892.8 794.2L894.2 794L895.5 793.9L897.3 793.7L899.1 793.5L900.9 793.3L902.7 793.1L904.5 792.9L906.2 792.6L907.9 792.4L909.5 792.2L911.1 791.9L912.6 791.7L914.1 791.5L915.4 791.3L916.7 791.1L917.9 790.9L919 790.7L920 790.5L923.3 789.5L924.6 788.6L925.5 788.6L926.5 789.3L927.4 790.4L928 792L928.3 794.1L928.3 795.3L928.2 796.7L927.9 798.2L927.6 799.8L927.3 801.6L927 803.4L926.7 805.3L926.4 807.2L926.3 808.5L926.1 809.9L926 811.3L925.9 812.7L925.7 814.1L925.6 815.6L925.5 817.2L925.3 818.8L925.2 820.4L925 822.1L924.8 823.9L924.6 825.7L924.4 827.1L924.3 828.6L924.1 830.2L923.8 831.9L923.6 833.6L923.4 835.4L923.1 837.2L922.9 839L922.7 840.7L922.4 842.5L922.2 844.1L922 845.7L921.8 847.2L921.6 848.6L921.5 849.8L921.3 850.8L921.2 851.7" fill="none" stroke="#ed7d31" stroke-width="1.7" stroke-linejoin="round" stroke-linecap="round"/>
<path d="M90.9 732.3L91 733.2L91.2 734.5L91.3 735.9L91.5 737.5L91.7 739.3L92 741.2L92.2 743.1L92.5 745L92.7 746.4L92.9 747.9L93.1 749.5L93.3 751.2L93.6 752.9L93.8 754.6L94.1 756.3L94.3 757.9L94.6 759.4L94.8 760.8L95.1 762L95.3 763L96.6 765.6L98 766L99.4 766.4L100.9 767L101.9 768L102.8 769.3L104 771L104.6 772L105.1 773.2L105.6 774.4L106.3 775.8L107.3 777.3L108.8 778.9L109.7 779.7L110.6 780.6L111.7 781.6L112.9 782.6L114.1 783.7L115.4 784.8L116.8 785.8L118.1 786.9L119.5 787.9L120.8 788.9L122.2 789.9L123.5 790.8L124.7 791.6L126.1 792.5L127.5 793.3L128.9 794L130.2 794.6L131.6 795.3L133 795.9L134.3 796.4L135.7 797L137.1 797.6L138.6 798.2L140 798.9L141.4 799.5L142.7 800.2L144.1 800.8L145.5 801.4L146.9 802.1L148.3 802.7L149.8 803.4L151.2 804L152.6 804.7L154.1 805.3L155.5 806L156.9 806.6L158.3 807.2L159.7 807.9L161.1 808.5L162.6 809.2L164 809.8L165.4 810.4L166.8 811.1L168.2 811.7L169.7 812.3L171.1 813L172.5 813.6L173.9 814.2L175.3 814.8L176.7 815.4L178.1 816L179.5 816.6L180.9 817.3L182.4 817.9L183.8 818.5L185.2 819.1L186.6 819.7L188 820.3L189.4 820.9L190.8 821.5L192.2 822.1L193.6 822.7L195 823.4L196.4 824L197.8 824.6L199.2 825.3L200.7 825.9L202.1 826.5L203.5 827.2L204.9 827.8L206.3 828.4L207.7 829L209.1 829.6L210.5 830.2L211.9 830.8L213.4 831.4L214.8 831.9L216.2 832.5L217.6 833.1L219 833.6L220.5 834.2L221.9 834.7L223.3 835.3L224.7 835.8L226.2 836.4L227.8 836.9L229.3 837.4L230.9 837.9L232.4 838.4L233.9 838.9L235.5 839.4L237 839.9L238.5 840.4L240.1 840.9L241.6 841.5L243 842L244.4 842.6L245.8 843.1L247.2 843.7L248.6 844.3L250 844.9L251.5 845.4L252.9 846L254.3 846.6L255.7 847.1L257.1 847.7L258.5 848.3L259.9 848.9L261.3 849.6L262.7 850.2L264.2 850.9L265.6 851.6L267 852.2L268.4 852.8L269.8 853.4L271.3 853.8L272.7 854.3L274.1 854.6L275.5 855L276.9 855.4L278.3 855.9L279.7 856.4L281 857L282.4 857.7L283.8 858.4L285.2 859.1L286.6 859.9L288 860.6L289.4 861.2L290.9 861.8L292.4 862.3L293.8 862.7L295.3 863.1L296.8 863.3L298.3 863.6L299.8 863.9L301.4 864.2L302.9 864.7L304.5 865.1L306 865.7L307.5 866.3L309 867L310.5 867.6L311.9 868.2L313.5 868.9L315.1 869.4L316.7 869.9L318.3 870.2L319.8 870.5L321.3 870.7L322.8 870.9L324.3 871.2L325.8 871.4L327.4 871.7L328.9 872.1L330.4 872.5L332 873L333.5 873.4L335.1 873.9L336.6 874.2L338.1 874.5L339.7 874.7L341.2 874.8L342.7 874.8L344.3 874.7L345.8 874.6L347.3 874.6L348.9 874.5L350.4 874.5L351.9 874.6L353.5 874.8L355 875L356.5 875.3L358.1 875.5L359.6 875.8L361.2 876L362.7 876L364.2 876L365.8 875.9L367.3 875.7L368.9 875.4L370.4 875.1L372 874.9L373.5 874.6L375.1 874.5L376.6 874.4L378.2 874.4L379.7 874.5L381.2 874.6L382.8 874.7L384.3 874.8L385.9 874.8L387.4 874.7L388.9 874.5L390.5 874.3L392 873.9L393.5 873.5L395.1 873.1L396.6 872.8L398.1 872.4L399.7 872.1L401.2 871.9L402.7 871.8L404.3 871.7L405.8 871.6L407.3 871.5L408.9 871.3L410.4 871.1L412 870.8L413.5 870.4L415 870L416.6 869.5L418.1 868.9L419.6 868.5L421.1 868L422.6 867.6L424.1 867.3L425.7 867.1L427.3 867L428.9 866.9L430.5 866.9L431.9 866.8L433.4 866.7L434.9 866.5L436.4 866.3L437.9 865.9L439.5 865.5L441 865.1L442.6 864.6L444.1 864.2L445.6 863.8L447.1 863.5L448.6 863.3L450 863.2L451.6 863.1L453.2 863L454.8 862.9L456.3 862.8L457.9 862.7L459.4 862.4L460.9 862.1L462.4 861.6L463.9 861.1L465.4 860.6L466.9 860L468.4 859.4L470 858.9L471.5 858.4L473.1 858L474.6 857.7L476.2 857.4L477.7 857.2L479.3 856.9L480.8 856.6L482.4 856.3L483.9 855.8L485.4 855.3L487 854.8L488.5 854.2L490.1 853.5L491.6 852.9L493.1 852.4L494.7 851.9L496.2 851.5L497.7 851.2L499.3 851L500.8 850.8L502.3 850.7L503.9 850.5L505.4 850.3L506.9 850.1L508.5 849.7L510 849.3L511.5 848.8L513.1 848.3L514.6 847.7L516.2 847.2L517.7 846.8L519.2 846.4L520.8 846.2L522.3 846L523.9 845.9L525.4 845.9L527 845.8L528.5 845.7L530.1 845.6L531.6 845.3L533.2 844.9L534.7 844.4L536.2 843.9L537.8 843.3L539.3 842.7L540.9 842.2L542.4 841.7L543.9 841.3L545.5 841L547 840.7L548.5 840.5L550.1 840.4L551.6 840.2L553.1 840L554.7 839.7L556.2 839.4L557.7 839L559.3 838.5L560.8 837.9L562.3 837.4L563.9 836.9L565.4 836.4L567 836L568.5 835.8L570 835.6L571.6 835.5L573.1 835.4L574.6 835.4L576.1 835.3L577.6 835.2L579.1 835L580.7 834.7L582.3 834.4L583.9 833.9L585.5 833.5L586.9 833.1L588.4 832.7L589.9 832.4L591.4 832.1L592.9 831.9L594.5 831.9L596 831.8L597.6 831.9L599.1 831.9L600.6 831.9L602.1 831.8L603.6 831.7L605 831.5L606.6 831.2L608.2 830.9L609.8 830.6L611.3 830.3L612.9 830.1L614.4 829.9L615.9 829.9L617.4 829.9L618.9 830L620.4 830.1L621.9 830.2L623.4 830.3L625 830.3L626.5 830.2L628.1 830L629.6 829.8L631.2 829.5L632.7 829.1L634.3 828.7L635.8 828.3L637.4 828L638.9 827.9L640.4 827.8L642 827.8L643.5 827.9L645.1 828L646.6 828.2L648.1 828.3L649.7 828.4L651.2 828.4L652.7 828.3L654.3 828.1L655.8 827.8L657.3 827.5L658.9 827.1L660.4 826.8L661.9 826.5L663.5 826.3L665 826.2L666.5 826.2L668.1 826.2L669.6 826.3L671.2 826.3L672.7 826.3L674.2 826.3L675.8 826.1L677.3 825.9L678.9 825.6L680.4 825.3L682 825L683.5 824.7L685.1 824.5L686.6 824.3L688.2 824.2L689.7 824L691.2 823.9L692.8 823.7L694.3 823.4L695.9 823.1L697.4 822.8L698.9 822.4L700.5 822.1L702 821.7L703.5 821.4L705.1 821.1L706.6 820.8L708.1 820.6L709.7 820.4L711.2 820.2L712.7 820L714.3 819.8L715.8 819.6L717.3 819.4L718.9 819.2L720.4 818.9L722 818.7L723.5 818.5L725 818.2L726.5 817.9L727.9 817.7L729.4 817.4L730.8 817.1L732.3 816.8L733.8 816.5L735.3 816.2L737 815.9L738.7 815.5L740.5 815.2L741.8 815L743.2 814.7L744.6 814.5L746 814.3L747.5 814L748.9 813.8L750.5 813.5L752 813.3L753.6 813L755.2 812.7L756.8 812.5L758.4 812.2L760 812L761.7 811.7L763.3 811.4L765 811.2L766.4 811L767.8 810.8L769.3 810.5L770.7 810.3L772.2 810.1L773.6 809.9L775.1 809.7L776.6 809.5L778.1 809.3L779.6 809.1L781.2 808.8L782.7 808.6L784.3 808.4L785.8 808.2L787.4 807.9L789 807.7L790.6 807.5L792.3 807.2L793.9 807L795.3 806.8L796.8 806.6L798.3 806.3L799.7 806.1L801.2 805.9L802.8 805.7L804.3 805.4L805.8 805.2L807.4 804.9L808.9 804.7L810.5 804.5L812.1 804.2L813.6 804L815.2 803.7L816.8 803.5L818.3 803.3L819.9 803L821.5 802.8L823 802.6L824.6 802.3L826.2 802.1L827.7 801.9L829.2 801.7L830.8 801.5L832.3 801.3L833.9 801.1L835.4 800.9L836.9 800.7L838.5 800.5L840 800.3L841.6 800.1L843.1 799.9L844.6 799.7L846.2 799.5L847.7 799.3L849.3 799.1L850.8 798.9L852.4 798.7L853.9 798.6L855.4 798.4L857 798.2L858.5 798L860.1 797.9L861.6 797.7L863.2 797.5L864.7 797.4L866.3 797.2L867.9 797.1L869.5 796.9L871.1 796.8L872.7 796.7L874.3 796.5L875.9 796.4L877.5 796.3L879.1 796.2L880.7 796L882.3 795.9L883.9 795.8L885.4 795.6L886.9 795.5L888.4 795.4L889.9 795.2L891.4 795.1L892.8 794.9L894.2 794.8L895.5 794.6L897.3 794.4L899.1 794.1L900.9 793.9L902.7 793.6L904.5 793.3L906.2 793.1L907.9 792.8L909.5 792.5L911.1 792.2L912.6 791.9L914.1 791.7L915.4 791.4L916.7 791.2L917.9 790.9L919 790.7L920 790.5L923.3 789.4L924.6 788.6L925.5 788.6L926.5 789.3L927.4 790.4L928 792L928.3 794.1L928.3 795.3L928.2 796.7L927.9 798.2L927.6 799.8L927.3 801.6L927 803.4L926.7 805.3L926.4 807.2L926.3 808.5L926.1 809.9L926 811.3L925.9 812.7L925.7 814.1L925.6 815.6L925.5 817.2L925.3 818.8L925.2 820.4L925 822.1L924.8 823.9L924.6 825.7L924.4 827.1L924.3 828.6L924.1 830.2L923.8 831.9L923.6 833.6L923.4 835.4L923.1 837.2L922.9 839L922.7 840.7L922.4 842.5L922.2 844.1L922 845.7L921.8 847.2L921.6 848.6L921.5 849.8L921.3 850.8L921.2 851.7" fill="none" stroke="#ed7d31" stroke-width="1.7" stroke-linejoin="round" stroke-linecap="round"/>
<rect x="600.7" y="336.6" width="308.7" height="157.8" fill="#fff" stroke="#404040" stroke-width="1.2"/>
<line x1="614.5" y1="362.2" x2="641" y2="362.2" stroke="#1fae5e" stroke-width="2.2" stroke-linecap="round"/>
<text x="643.5" y="369.2">-30 Degree</text>
<line x1="769.2" y1="362.2" x2="795.7" y2="362.2" stroke="#f01818" stroke-width="2.2" stroke-linecap="round"/>
<text x="798.2" y="369.2">-15 Degree</text>
<line x1="614.5" y1="415.1" x2="641" y2="415.1" stroke="#5b9bd5" stroke-width="2.2" stroke-linecap="round"/>
<text x="643.5" y="422.1">0 Degree</text>
<line x1="769.2" y1="415.1" x2="795.7" y2="415.1" stroke="#000000" stroke-width="2.2" stroke-linecap="round"/>
<text x="798.2" y="422.1">15 Degree</text>
<line x1="614.5" y1="466.6" x2="641" y2="466.6" stroke="#ed7d31" stroke-width="2.2" stroke-linecap="round"/>
<text x="643.5" y="473.6">30 Degree</text>
<rect x="595.5" y="1018.3" width="308" height="138.6" fill="#fff" stroke="#404040" stroke-width="1.2"/>
<line x1="609.5" y1="1040.8" x2="636" y2="1040.8" stroke="#1fae5e" stroke-width="2.2" stroke-linecap="round"/>
<text x="638.5" y="1047.8">-30 Degree</text>
<line x1="764" y1="1040.8" x2="790.5" y2="1040.8" stroke="#f01818" stroke-width="2.2" stroke-linecap="round"/>
<text x="793" y="1047.8">-15 Degree</text>
<line x1="609.5" y1="1087.8" x2="636" y2="1087.8" stroke="#5b9bd5" stroke-width="2.2" stroke-linecap="round"/>
<text x="638.5" y="1094.8">0 Degree</text>
<line x1="764" y1="1087.8" x2="790.5" y2="1087.8" stroke="#000000" stroke-width="2.2" stroke-linecap="round"/>
<text x="793" y="1094.8">15 Degree</text>
<line x1="609.5" y1="1134.2" x2="636" y2="1134.2" stroke="#ed7d31" stroke-width="2.2" stroke-linecap="round"/>
<text x="638.5" y="1141.2">30 Degree</text>
</svg></body></html>
